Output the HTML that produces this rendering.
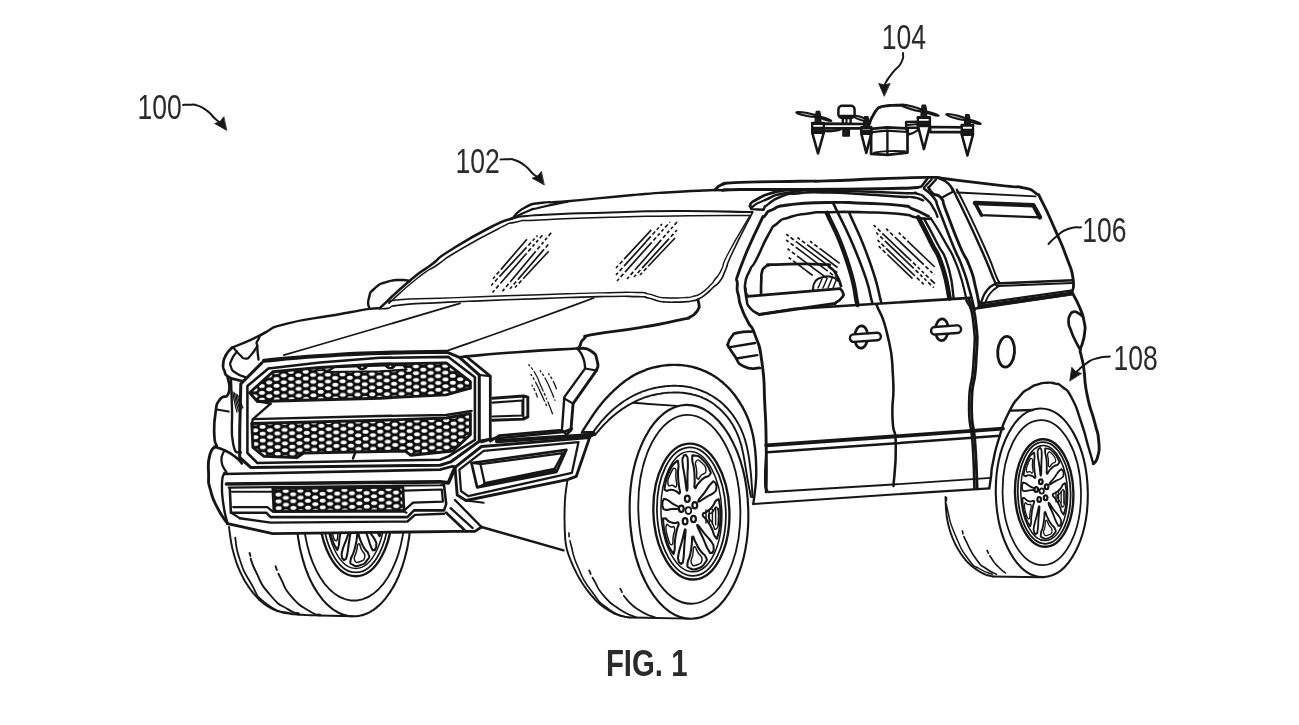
<!DOCTYPE html>
<html><head><meta charset="utf-8"><title>FIG. 1</title>
<style>
html,body{margin:0;padding:0;background:#fff;}
body{width:1299px;height:725px;overflow:hidden;font-family:"Liberation Sans",sans-serif;}
svg{display:block;}
svg path,svg ellipse,svg line,svg circle{stroke:#161616;stroke-linecap:round;stroke-linejoin:round;}
svg text{font-family:"Liberation Sans",sans-serif;fill:#2b2b2b;stroke:none;}
</style></head><body>
<svg width="1299" height="725" viewBox="0 0 1299 725">
<defs>
<filter id="soft" x="-0.02" y="-0.02" width="1.04" height="1.04"><feGaussianBlur stdDeviation="0.45"/></filter>
<pattern id="mesh" width="14.7" height="6.8" patternUnits="userSpaceOnUse" patternTransform="translate(1.5 1.2) rotate(-1)">
<rect width="14.7" height="6.8" style="fill:#0c0c0c;stroke:none"/>
<ellipse cx="3.675" cy="1.700" rx="3.0" ry="1.95" style="fill:#fff;stroke:none"/>
<ellipse cx="3.675" cy="8.500" rx="3.0" ry="1.95" style="fill:#fff;stroke:none"/>
<ellipse cx="11.025" cy="5.100" rx="3.0" ry="1.95" style="fill:#fff;stroke:none"/>
<ellipse cx="11.025" cy="-1.700" rx="3.0" ry="1.95" style="fill:#fff;stroke:none"/>
</pattern>
</defs>
<rect width="1299" height="725" style="fill:#fff;stroke:none"/>
<g filter="url(#soft)">
<path d="M821.9 123.6 L867.3 124.0 L867.3 128.4 L821.9 128.4Z" stroke-width="2.56" fill="#fff" />
<path d="M823.3 130.9 C826.2 130.9 826.4 131.4 832.0 131.0 C837.6 130.6 837.5 130.1 840.2 129.6" stroke-width="2.56" fill="none" />
<path d="M930.2 127.0 L964.0 127.4 L963.0 132.1 L930.2 132.1Z" stroke-width="2.56" fill="#fff" />
<rect x="838.4" y="105.8" width="16.2" height="12.2" rx="3.6" style="fill:#fff;stroke:#161616;stroke-width:2.5"/>
<path d="M840.5 116.4 L852.5 116.4" stroke-width="3.52" fill="none" />
<path d="M842.8 119.0 L842.8 123.5" stroke-width="2.40" fill="none" />
<path d="M850.6 119.0 L850.6 123.5" stroke-width="2.40" fill="none" />
<path d="M846.5 119.0 L846.5 123.5" stroke-width="2.08" fill="none" />
<path d="M843.0 129.0 L843.0 136.0 L849.2 136.0 L849.2 129.0Z" stroke-width="1.60" fill="#1c1c1c" />
<path d="M868.2 127.8 C868.8 125.9 868.7 125.5 870.0 122.0 C871.3 118.5 869.8 121.4 872.1 117.2 C874.4 113.0 874.1 112.8 876.9 109.5 C879.7 106.2 877.9 108.3 880.5 107.2 C883.1 106.1 880.8 106.7 884.6 106.1 C888.4 105.5 886.6 105.7 892.0 105.4 C897.4 105.1 897.9 105.3 900.8 105.2" stroke-width="2.88" fill="none" />
<path d="M871.1 128.8 L886.6 127.4 L906.0 128.3 L907.5 131.8 L907.5 152.6 L887.7 154.9 L871.1 153.9Z" stroke-width="2.72" fill="#fff" />
<path d="M872.1 132.2 L886.6 130.7 L907.5 132.0" stroke-width="2.24" fill="none" />
<path d="M887.4 130.7 L887.4 154.9" stroke-width="2.40" fill="none" />
<path d="M874.0 152.6 C878.5 152.1 877.2 151.7 887.5 151.2 C897.8 150.7 899.2 151.2 905.0 151.2" stroke-width="1.76" fill="none" />
<path d="M906.1 122.0 L918.6 121.6 L918.6 127.8 L906.1 127.8Z" stroke-width="2.40" fill="#fff" />
<path d="M907.0 125.0 L918.6 124.0" stroke-width="1.76" fill="none" />
<path d="M908.0 128.3 L908.0 134.6 L912.8 133.1 L918.6 129.8" stroke-width="2.24" fill="none" />
<path d="M816.4 111.4 L819.6 111.4 L820.6 116.4 L820.8 123.0 L815.2 123.0 L815.4 116.4Z" stroke-width="1.44" fill="#1c1c1c" />
<path d="M812.2 123.0 L823.8 123.0 L823.8 132.7 L812.2 132.7Z" stroke-width="2.40" fill="#fff" />
<path d="M812.2 127.8 L823.8 127.8 L823.8 132.7 L812.2 132.7Z" stroke-width="1.92" fill="#1c1c1c" />
<path d="M812.2 123.6 L823.8 123.6" stroke-width="2.56" fill="none" />
<path d="M812.2 132.7 L818.0 153.4 L823.8 132.7Z" stroke-width="2.56" fill="#fff" />
<path d="M864.7 116.7 L867.9 116.7 L868.9 121.7 L869.1 127.2 L863.5 127.2 L863.7 121.7Z" stroke-width="1.44" fill="#1c1c1c" />
<path d="M861.3 127.2 L871.3 127.2 L871.3 133.6 L861.3 133.6Z" stroke-width="2.40" fill="#fff" />
<path d="M861.3 130.4 L871.3 130.4 L871.3 133.6 L861.3 133.6Z" stroke-width="1.92" fill="#1c1c1c" />
<path d="M861.3 127.8 L871.3 127.8" stroke-width="2.56" fill="none" />
<path d="M861.3 133.6 L866.3 152.9 L871.3 133.6Z" stroke-width="2.56" fill="#fff" />
<path d="M922.3 105.1 L925.5 105.1 L926.5 110.1 L926.7 117.2 L921.1 117.2 L921.3 110.1Z" stroke-width="1.44" fill="#1c1c1c" />
<path d="M917.9 117.2 L929.9 117.2 L929.9 125.9 L917.9 125.9Z" stroke-width="2.40" fill="#fff" />
<path d="M917.9 121.6 L929.9 121.6 L929.9 125.9 L917.9 125.9Z" stroke-width="1.92" fill="#1c1c1c" />
<path d="M917.9 117.8 L929.9 117.8" stroke-width="2.56" fill="none" />
<path d="M917.9 125.9 L923.9 149.1 L929.9 125.9Z" stroke-width="2.56" fill="#fff" />
<path d="M965.8 114.8 L969.0 114.8 L970.0 119.8 L970.2 124.9 L964.6 124.9 L964.8 119.8Z" stroke-width="1.44" fill="#1c1c1c" />
<path d="M961.8 124.9 L973.0 124.9 L973.0 134.6 L961.8 134.6Z" stroke-width="2.40" fill="#fff" />
<path d="M961.8 129.8 L973.0 129.8 L973.0 134.6 L961.8 134.6Z" stroke-width="1.92" fill="#1c1c1c" />
<path d="M961.8 125.5 L973.0 125.5" stroke-width="2.56" fill="none" />
<path d="M961.8 134.6 L967.4 155.4 L973.0 134.6Z" stroke-width="2.56" fill="#fff" />
<ellipse cx="807.1" cy="114.5" rx="11.1" ry="1.5" stroke-width="2.00" fill="#bbb" transform="rotate(11.0 807.1 114.5)"/>
<ellipse cx="824.8" cy="118.8" rx="7.1" ry="0.9" stroke-width="1.92" fill="#222" transform="rotate(18.4 824.8 118.8)"/>
<ellipse cx="912.3" cy="108.0" rx="12.0" ry="1.5" stroke-width="2.00" fill="#bbb" transform="rotate(15.7 912.3 108.0)"/>
<ellipse cx="931.4" cy="113.5" rx="7.8" ry="0.9" stroke-width="1.92" fill="#222" transform="rotate(17.0 931.4 113.5)"/>
<ellipse cx="956.8" cy="117.0" rx="11.0" ry="1.5" stroke-width="2.00" fill="#bbb" transform="rotate(14.5 956.8 117.0)"/>
<ellipse cx="974.1" cy="121.9" rx="7.1" ry="0.9" stroke-width="1.92" fill="#222" transform="rotate(17.3 974.1 121.9)"/>
<ellipse cx="860.0" cy="118.2" rx="6.6" ry="1.5" stroke-width="2.00" fill="#bbb" transform="rotate(18.0 860.0 118.2)"/>
<ellipse cx="866.3" cy="120.3" rx="0.0" ry="0.9" stroke-width="1.92" fill="#222" transform="rotate(0.0 866.3 120.3)"/>
<path d="M229.0 526.9 C229.0 526.9 229.0 526.8 229.0 526.9 C229.0 527.0 229.0 526.9 229.0 527.2 C229.1 527.4 229.0 527.2 229.1 527.8 C229.2 528.3 229.1 527.9 229.2 528.9 C229.4 529.9 229.3 529.4 229.5 530.8 C229.7 532.2 229.6 531.5 229.8 533.2 C230.0 534.9 229.9 534.1 230.2 535.9 C230.4 537.8 230.3 536.9 230.6 538.9 C230.9 540.8 230.7 539.8 231.1 541.7 C231.4 543.7 231.2 542.7 231.6 544.7 C232.0 546.6 231.8 545.6 232.2 547.7 C232.7 549.7 232.4 548.6 233.0 550.8 C233.5 553.0 233.2 551.9 233.9 554.2 C234.5 556.4 234.2 555.3 234.9 557.7 C235.6 560.0 235.2 558.8 236.0 561.2 C236.8 563.6 236.4 562.5 237.3 564.8 C238.2 567.2 237.7 566.1 238.7 568.4 C239.7 570.8 239.2 569.6 240.2 571.9 C241.3 574.2 240.7 573.1 241.9 575.3 C243.0 577.6 242.4 576.5 243.6 578.7 C244.8 580.9 244.2 579.8 245.5 582.0 C246.8 584.1 246.1 583.0 247.5 585.1 C248.8 587.2 248.1 586.2 249.6 588.2 C251.0 590.2 250.3 589.2 251.7 591.2 C253.2 593.1 252.5 592.2 254.0 594.0 C255.6 595.9 254.8 595.0 256.4 596.7 C257.9 598.4 257.2 597.6 258.7 599.2 C260.3 600.7 259.5 600.0 261.0 601.4 C262.6 602.8 261.8 602.1 263.3 603.3 C264.9 604.5 264.1 603.9 265.6 605.0 C267.1 606.0 266.3 605.5 267.8 606.4 C269.3 607.3 268.6 606.9 270.1 607.7 C271.6 608.5 270.8 608.1 272.3 608.9 C273.9 609.7 273.1 609.3 274.8 610.0 C276.4 610.7 275.5 610.3 277.4 611.0 C279.3 611.6 278.2 611.3 280.4 611.9 C282.5 612.4 281.3 612.2 283.7 612.7 C286.1 613.2 284.9 612.9 287.6 613.4 C290.3 613.8 288.8 613.6 291.9 614.0 C295.0 614.3 293.4 614.2 296.7 614.5 C300.1 614.8 298.5 614.6 302.0 614.8 C305.5 615.0 303.9 614.9 307.3 615.1 C310.7 615.2 309.3 615.2 312.1 615.3 C315.0 615.4 313.8 615.3 315.9 615.4 C317.9 615.4 317.1 615.4 318.3 615.5 C319.5 615.5 318.9 615.5 319.5 615.5 C320.0 615.5 319.8 615.5 319.9 615.5 C320.1 615.5 320.0 615.5 320.0 615.5" stroke-width="1.92" fill="none" />
<path d="M320.0 615.5 L352.7 616.2" stroke-width="1.92" fill="none" />
<path d="M235.2 537.7 C236.7 544.9 234.6 544.3 239.7 559.2 C244.8 574.1 241.5 567.6 250.5 582.5 C259.5 597.4 252.9 593.5 266.6 604.0 C280.3 614.5 283.3 610.6 291.7 613.9" stroke-width="1.76" fill="none" />
<path d="M249.6 552.9 C251.7 559.2 249.0 557.7 255.9 571.7 C262.8 585.7 259.5 582.4 270.2 595.0 C280.9 607.6 278.5 603.3 288.1 609.4 C297.7 615.5 295.3 612.0 298.9 613.3" stroke-width="1.92" fill="none" stroke-dasharray="3 3 200"/>
<path d="M275.6 566.3 C277.4 570.5 275.6 568.7 281.0 578.9 C286.4 589.1 282.1 586.0 291.7 596.8 C301.3 607.6 300.1 605.2 309.7 611.2 C319.3 617.2 316.8 613.6 320.4 614.8" stroke-width="1.92" fill="none" stroke-dasharray="4 4 200"/>
<path d="M296.2 510.0 C296.3 513.7 296.1 513.7 296.5 521.1 C296.9 528.5 296.6 524.9 297.5 532.1 C298.3 539.3 297.8 535.8 299.0 542.8 C300.2 549.9 299.5 546.5 301.2 553.2 C302.8 560.0 301.9 556.7 303.9 563.1 C305.9 569.6 304.8 566.5 307.2 572.5 C309.5 578.5 308.3 575.6 310.9 581.1 C313.6 586.6 312.2 584.0 315.2 589.0 C318.2 594.0 316.6 591.6 319.9 596.0 C323.1 600.4 321.4 598.4 324.9 602.1 C328.4 605.8 326.6 604.1 330.3 607.1 C333.9 610.1 332.1 608.8 335.9 611.1 C339.7 613.4 337.8 612.4 341.7 614.0 C345.6 615.5 343.6 614.9 347.6 615.7 C351.6 616.5 349.6 616.3 353.6 616.3 C357.6 616.3 355.6 616.5 359.6 615.7 C363.6 614.9 361.6 615.5 365.5 614.0 C369.4 612.4 367.5 613.4 371.3 611.1 C375.1 608.8 373.3 610.1 376.9 607.1 C380.6 604.1 378.8 605.8 382.3 602.1 C385.8 598.4 384.1 600.4 387.3 596.0 C390.6 591.6 389.0 594.0 392.0 589.0 C395.0 584.0 393.6 586.6 396.3 581.1 C398.9 575.6 397.7 578.5 400.0 572.5 C402.4 566.5 401.3 569.6 403.3 563.2 C405.3 556.7 404.4 560.0 406.0 553.2 C407.7 546.5 407.0 549.9 408.2 542.8 C409.4 535.8 408.9 539.3 409.7 532.1 C410.6 524.9 410.3 528.5 410.7 521.1 C411.1 513.7 410.9 513.7 411.0 510.0" stroke-width="2.08" fill="none" />
<path d="M303.2 499.9 C303.1 503.3 302.9 503.4 303.0 510.2 C303.1 517.0 303.0 513.6 303.5 520.3 C304.0 527.1 303.6 523.8 304.5 530.4 C305.4 537.0 304.9 533.8 306.2 540.1 C307.5 546.5 306.7 543.4 308.4 549.5 C310.1 555.6 309.2 552.7 311.2 558.4 C313.3 564.1 312.2 561.4 314.6 566.6 C316.9 571.9 315.7 569.4 318.4 574.2 C321.0 578.9 319.6 576.7 322.6 580.9 C325.6 585.1 324.0 583.2 327.2 586.7 C330.4 590.3 328.8 588.7 332.2 591.6 C335.6 594.5 333.8 593.2 337.4 595.5 C340.9 597.7 339.2 596.8 342.8 598.2 C346.5 599.7 344.6 599.2 348.4 599.9 C352.1 600.7 350.2 600.5 354.0 600.5 C357.8 600.5 355.9 600.7 359.6 599.9 C363.4 599.2 361.5 599.7 365.2 598.2 C368.8 596.8 367.1 597.7 370.6 595.5 C374.2 593.2 372.4 594.5 375.8 591.6 C379.2 588.7 377.6 590.3 380.8 586.7 C384.0 583.2 382.4 585.1 385.4 580.9 C388.4 576.7 387.0 578.9 389.6 574.2 C392.3 569.4 391.1 571.9 393.4 566.6 C395.8 561.4 394.7 564.1 396.8 558.4 C398.8 552.7 397.9 555.6 399.6 549.5 C401.3 543.4 400.5 546.5 401.8 540.1 C403.1 533.8 402.6 537.0 403.5 530.4 C404.4 523.8 404.0 527.1 404.5 520.3 C405.0 513.6 404.9 517.0 405.0 510.2 C405.1 503.4 404.9 503.3 404.8 499.9" stroke-width="1.84" fill="none" />
<ellipse cx="355.8" cy="508.0" rx="36.7" ry="68.2" stroke-width="2.40" fill="#fff" transform="rotate(0.0 355.8 508.0)"/>
<ellipse cx="355.8" cy="508.0" rx="33.2" ry="64.4" stroke-width="1.76" fill="none" transform="rotate(0.0 355.8 508.0)"/>
<ellipse cx="355.8" cy="508.0" rx="29.4" ry="60.4" stroke-width="1.52" fill="none" transform="rotate(0.0 355.8 508.0)"/>
<path d="M354.2 487.7 C353.3 488.0 353.3 482.4 351.7 472.8 C350.1 463.2 350.0 465.6 349.4 459.0 C348.8 452.5 349.2 455.8 349.9 453.2 C350.6 450.6 350.3 451.7 351.4 451.4 C352.5 451.0 352.2 450.1 353.2 452.1 C354.2 454.1 354.1 450.8 354.5 457.4 C354.9 464.0 354.5 461.8 354.4 471.9 C354.3 482.0 355.1 487.4 354.2 487.7Z" stroke-width="2.08" fill="none" />
<path d="M346.9 489.6 C345.9 491.6 346.1 488.9 343.1 487.6 C340.0 486.2 341.3 486.1 337.7 485.6 C334.1 485.1 334.3 487.7 332.3 486.0 C330.2 484.2 330.3 486.7 331.5 480.3 C332.7 474.0 332.3 474.4 335.9 467.0 C339.5 459.6 339.3 460.6 342.3 458.1 C345.4 455.7 344.2 455.5 345.1 459.7 C345.9 463.9 344.7 463.4 344.9 470.8 C345.2 478.1 345.2 475.5 345.9 481.8 C346.5 488.1 347.8 487.7 346.9 489.6Z" stroke-width="2.08" fill="none" />
<path d="M343.3 482.4 C342.1 484.9 342.0 482.1 339.1 481.2 C336.2 480.4 335.3 483.6 334.6 479.7 C333.9 475.8 334.6 474.7 337.1 469.6 C339.6 464.5 340.2 463.1 342.0 464.5 C343.9 465.9 342.4 467.8 342.8 473.8 C343.2 479.7 344.6 479.9 343.3 482.4Z" stroke-width="1.46" fill="none" />
<path d="M345.9 504.8 C345.8 506.7 343.2 505.0 338.2 505.2 C333.3 505.3 334.4 506.2 331.2 505.3 C328.0 504.5 329.6 504.7 328.6 502.6 C327.6 500.5 328.1 501.3 328.3 499.0 C328.4 496.8 327.9 497.2 329.1 495.9 C330.4 494.5 328.8 493.6 332.0 494.9 C335.2 496.1 334.0 496.2 338.7 499.5 C343.3 502.8 346.1 502.9 345.9 504.8Z" stroke-width="2.08" fill="none" />
<path d="M344.6 519.8 C345.1 522.2 344.0 521.0 342.4 526.6 C340.8 532.1 341.2 529.6 339.8 536.5 C338.5 543.4 339.8 543.7 338.3 547.2 C336.9 550.6 338.1 551.2 335.5 546.9 C333.0 542.6 333.0 543.6 330.7 534.3 C328.4 525.0 328.8 525.6 328.6 518.9 C328.4 512.1 327.9 514.4 330.1 514.0 C332.3 513.6 331.7 516.0 335.2 517.8 C338.7 519.6 337.5 518.7 340.6 519.4 C343.7 520.0 344.0 517.4 344.6 519.8Z" stroke-width="2.08" fill="none" />
<path d="M340.1 524.4 C340.9 527.6 339.6 526.9 338.3 532.3 C337.0 537.7 338.2 540.5 336.2 540.7 C334.2 540.8 333.8 539.1 332.3 532.7 C330.7 526.3 330.2 524.7 331.4 521.4 C332.6 518.2 333.0 521.9 335.9 522.9 C338.8 523.9 339.3 521.3 340.1 524.4Z" stroke-width="1.46" fill="none" />
<path d="M351.3 526.3 C352.1 527.1 350.5 531.8 349.1 541.5 C347.6 551.1 348.3 549.3 347.0 555.3 C345.6 561.3 346.2 558.2 344.9 559.5 C343.6 560.7 344.1 560.1 343.1 559.1 C342.1 558.1 342.2 559.2 341.9 556.4 C341.7 553.5 340.8 556.3 342.4 550.5 C343.9 544.7 343.6 547.0 346.6 538.9 C349.6 530.8 350.4 525.4 351.3 526.3Z" stroke-width="2.08" fill="none" />
<path d="M357.8 533.6 C359.1 533.2 358.2 535.1 360.3 539.9 C362.3 544.7 361.3 543.2 364.1 548.0 C366.8 552.8 367.4 550.3 368.5 554.2 C369.7 558.1 370.3 556.0 367.5 559.7 C364.8 563.4 365.2 563.6 360.2 565.2 C355.2 566.9 355.6 566.3 352.4 564.6 C349.2 562.9 350.1 564.5 350.6 560.0 C351.2 555.6 352.1 557.6 354.0 551.3 C355.9 545.0 355.1 547.1 356.4 541.2 C357.6 535.3 356.5 534.1 357.8 533.6Z" stroke-width="2.08" fill="none" />
<path d="M358.6 543.8 C360.3 543.2 359.5 545.5 361.6 549.8 C363.7 554.0 365.4 552.5 364.8 556.5 C364.3 560.4 363.4 560.5 359.9 561.7 C356.5 562.8 355.6 563.2 354.5 559.8 C353.3 556.4 355.2 556.8 356.5 551.4 C357.9 546.1 356.9 544.3 358.6 543.8Z" stroke-width="1.46" fill="none" />
<path d="M362.9 522.5 C363.5 521.2 365.2 525.7 369.2 531.5 C373.2 537.3 372.6 535.3 375.0 539.9 C377.3 544.5 376.1 542.3 376.3 545.2 C376.4 548.1 376.3 546.9 375.5 548.5 C374.7 550.2 375.3 550.4 373.9 550.0 C372.5 549.7 373.5 552.2 371.3 547.4 C369.1 542.6 370.1 543.8 367.2 535.5 C364.4 527.2 362.2 523.9 362.9 522.5Z" stroke-width="2.08" fill="none" />
<path d="M368.3 512.1 C368.5 509.4 369.1 511.8 371.9 509.2 C374.8 506.5 373.8 508.1 376.9 504.2 C379.9 500.3 379.0 498.5 381.1 497.4 C383.3 496.4 382.5 494.5 383.3 501.0 C384.2 507.6 384.4 506.7 383.6 517.1 C382.8 527.4 382.7 526.4 380.9 532.1 C379.2 537.8 380.2 536.5 378.3 534.2 C376.4 531.8 377.6 530.6 375.3 525.0 C372.9 519.3 373.7 521.5 371.3 517.2 C369.0 512.8 368.1 514.7 368.3 512.1Z" stroke-width="2.08" fill="none" />
<path d="M373.2 513.7 C373.5 510.2 374.3 512.3 376.9 509.5 C379.5 506.7 379.4 503.0 381.0 505.3 C382.7 507.6 382.4 509.4 381.9 516.5 C381.4 523.6 381.3 525.4 379.4 526.6 C377.4 527.8 378.2 524.3 376.1 520.0 C374.1 515.7 372.9 517.2 373.2 513.7Z" stroke-width="1.46" fill="none" />
<path d="M364.7 498.7 C364.3 497.0 366.9 495.2 370.8 489.1 C374.7 483.0 373.6 483.6 376.5 480.4 C379.3 477.2 377.9 479.0 379.3 479.5 C380.7 480.0 380.1 479.9 380.7 482.0 C381.2 484.0 381.4 483.0 380.8 485.6 C380.2 488.2 381.7 487.0 378.8 489.8 C375.9 492.7 376.8 491.2 372.1 494.1 C367.4 497.1 365.1 500.4 364.7 498.7Z" stroke-width="2.08" fill="none" />
<path d="M361.5 484.9 C360.4 483.7 361.6 483.2 361.3 476.8 C361.0 470.4 361.4 472.8 360.6 465.7 C359.7 458.5 358.5 459.8 358.7 455.2 C358.9 450.7 357.8 451.6 361.1 452.0 C364.4 452.4 364.1 451.6 368.6 456.4 C373.1 461.1 372.6 461.0 374.7 466.3 C376.8 471.5 376.5 469.1 374.8 472.1 C373.2 475.1 373.0 472.4 369.7 475.2 C366.3 478.0 367.5 477.3 364.8 480.5 C362.1 483.7 362.7 486.1 361.5 484.9Z" stroke-width="2.08" fill="none" />
<path d="M363.8 475.7 C362.3 474.1 363.5 473.1 363.0 467.2 C362.5 461.2 360.7 460.4 362.3 457.9 C363.9 455.3 364.7 456.3 367.8 459.6 C370.9 462.9 371.7 463.5 371.7 467.7 C371.6 471.8 370.3 469.3 367.6 472.0 C365.0 474.7 365.3 477.3 363.8 475.7Z" stroke-width="1.46" fill="none" />
<ellipse cx="354.7" cy="496.2" rx="2.3" ry="3.1" stroke-width="2.24" fill="none" transform="rotate(0.0 354.7 496.2)"/>
<ellipse cx="348.9" cy="506.1" rx="2.3" ry="3.1" stroke-width="2.24" fill="none" transform="rotate(0.0 348.9 506.1)"/>
<ellipse cx="352.6" cy="518.6" rx="2.3" ry="3.1" stroke-width="2.24" fill="none" transform="rotate(0.0 352.6 518.6)"/>
<ellipse cx="360.7" cy="516.4" rx="2.3" ry="3.1" stroke-width="2.24" fill="none" transform="rotate(0.0 360.7 516.4)"/>
<ellipse cx="362.0" cy="502.6" rx="2.3" ry="3.1" stroke-width="2.24" fill="none" transform="rotate(0.0 362.0 502.6)"/>
<ellipse cx="355.8" cy="508.0" rx="2.8" ry="3.4" stroke-width="1.76" fill="none" transform="rotate(0.0 355.8 508.0)"/>
<path d="M567.5 480.0 C567.5 480.0 567.5 479.9 567.5 480.0 C567.5 480.1 567.5 480.0 567.5 480.3 C567.4 480.6 567.5 480.3 567.3 481.0 C567.2 481.7 567.3 481.2 567.1 482.3 C567.0 483.5 567.0 482.8 566.8 484.5 C566.5 486.1 566.7 485.3 566.4 487.3 C566.1 489.3 566.2 488.3 565.9 490.5 C565.7 492.8 565.8 491.7 565.5 494.0 C565.3 496.3 565.4 495.1 565.2 497.5 C565.0 499.9 565.1 498.7 564.9 501.1 C564.8 503.5 564.9 502.3 564.8 504.8 C564.7 507.3 564.7 506.0 564.6 508.7 C564.6 511.3 564.6 510.0 564.6 512.8 C564.5 515.6 564.5 514.2 564.5 517.1 C564.5 520.0 564.5 518.5 564.6 521.5 C564.6 524.4 564.6 523.0 564.6 525.9 C564.7 528.9 564.7 527.4 564.8 530.3 C564.9 533.2 564.8 531.8 565.0 534.6 C565.1 537.4 565.0 536.1 565.2 538.6 C565.5 541.2 565.3 540.0 565.6 542.3 C565.9 544.7 565.7 543.5 566.1 545.6 C566.5 547.7 566.3 546.7 566.7 548.6 C567.1 550.5 566.9 549.5 567.4 551.3 C567.9 553.0 567.7 552.2 568.2 553.8 C568.7 555.5 568.5 554.6 569.1 556.3 C569.7 557.9 569.4 557.1 570.0 558.7 C570.6 560.3 570.3 559.5 571.0 561.1 C571.7 562.7 571.3 561.9 572.0 563.5 C572.7 565.1 572.4 564.3 573.1 566.0 C573.8 567.6 573.5 566.8 574.2 568.5 C575.0 570.1 574.6 569.3 575.4 570.9 C576.2 572.6 575.8 571.8 576.6 573.4 C577.5 575.0 577.1 574.2 577.9 575.8 C578.8 577.5 578.4 576.6 579.3 578.3 C580.3 579.9 579.8 579.1 580.8 580.7 C581.8 582.3 581.2 581.5 582.3 583.2 C583.4 584.8 582.9 584.0 584.0 585.7 C585.2 587.4 584.6 586.5 585.8 588.2 C587.0 590.0 586.4 589.1 587.7 590.8 C589.0 592.5 588.3 591.7 589.7 593.3 C591.0 595.0 590.3 594.2 591.7 595.8 C593.1 597.4 592.4 596.6 593.8 598.2 C595.1 599.7 594.5 599.0 595.8 600.4 C597.2 601.8 596.5 601.1 597.9 602.4 C599.3 603.7 598.6 603.1 600.0 604.3 C601.3 605.4 600.6 604.8 602.0 605.9 C603.4 607.0 602.7 606.4 604.1 607.4 C605.5 608.4 604.8 607.9 606.2 608.8 C607.6 609.8 606.9 609.3 608.3 610.2 C609.8 611.0 609.0 610.6 610.5 611.4 C611.9 612.2 611.2 611.9 612.6 612.6 C614.0 613.3 613.3 613.0 614.7 613.6 C616.0 614.2 615.3 613.9 616.6 614.4 C617.9 615.0 617.2 614.7 618.5 615.2 C619.7 615.6 619.1 615.4 620.3 615.8 C621.5 616.1 620.9 616.0 622.2 616.2 C623.4 616.5 622.8 616.4 624.0 616.6 C625.3 616.9 624.7 616.8 625.9 616.9 C627.0 617.1 626.5 617.0 627.4 617.2 C628.4 617.3 628.0 617.2 628.7 617.3 C629.3 617.4 629.0 617.4 629.4 617.4 C629.8 617.5 629.7 617.5 629.8 617.5 C630.0 617.5 629.9 617.5 630.0 617.5 C630.0 617.5 630.0 617.5 630.0 617.5" stroke-width="1.92" fill="none" />
<path d="M630.0 617.5 L689.0 618.6" stroke-width="1.92" fill="none" />
<path d="M632.7 402.8 L676.8 405.9" stroke-width="1.92" fill="none" />
<ellipse cx="689.0" cy="511.8" rx="59.3" ry="107.0" stroke-width="2.16" fill="#fff" transform="rotate(-1.5 689.0 511.8)"/>
<ellipse cx="689.3" cy="509.3" rx="51.0" ry="94.5" stroke-width="1.84" fill="none" transform="rotate(-1.5 689.3 509.3)"/>
<ellipse cx="691.4" cy="511.6" rx="38.0" ry="68.0" stroke-width="2.40" fill="#fff" transform="rotate(-2.0 691.4 511.6)"/>
<ellipse cx="691.4" cy="511.6" rx="34.4" ry="64.3" stroke-width="1.76" fill="none" transform="rotate(-2.0 691.4 511.6)"/>
<ellipse cx="691.4" cy="511.6" rx="30.4" ry="60.2" stroke-width="1.52" fill="none" transform="rotate(-2.0 691.4 511.6)"/>
<path d="M687.1 490.8 C686.2 491.1 686.2 485.6 684.7 476.3 C683.2 467.0 683.1 469.2 682.6 462.9 C682.1 456.5 682.4 459.7 683.2 457.1 C683.9 454.6 683.6 455.7 684.8 455.3 C685.9 454.9 685.5 454.0 686.5 455.9 C687.6 457.9 687.5 454.6 687.8 461.0 C688.1 467.5 687.8 465.4 687.5 475.3 C687.3 485.2 688.0 490.5 687.1 490.8Z" stroke-width="2.08" fill="none" />
<path d="M679.8 493.1 C678.9 495.0 679.1 492.4 676.2 491.2 C673.2 490.1 674.4 490.0 671.0 489.7 C667.6 489.4 667.9 492.0 665.9 490.4 C664.0 488.8 664.1 491.2 665.2 484.9 C666.3 478.6 665.8 479.0 669.2 471.5 C672.7 463.9 672.6 464.9 675.6 462.3 C678.6 459.7 677.5 459.6 678.3 463.7 C679.1 467.8 677.8 467.3 678.0 474.6 C678.2 481.8 678.2 479.3 678.9 485.4 C679.5 491.6 680.7 491.1 679.8 493.1Z" stroke-width="2.08" fill="none" />
<path d="M676.4 486.1 C675.2 488.7 675.2 486.0 672.4 485.3 C669.6 484.6 668.7 487.8 668.1 484.1 C667.4 480.3 668.0 479.1 670.4 473.9 C672.8 468.7 673.4 467.3 675.2 468.6 C677.1 469.8 675.5 471.8 675.9 477.7 C676.3 483.5 677.6 483.6 676.4 486.1Z" stroke-width="1.46" fill="none" />
<path d="M679.1 508.1 C679.0 510.0 676.5 508.5 671.9 509.0 C667.3 509.5 668.4 510.3 665.3 509.7 C662.3 509.1 663.8 509.2 662.9 507.2 C661.9 505.1 662.3 505.9 662.4 503.6 C662.5 501.4 662.1 501.8 663.2 500.4 C664.3 498.9 662.8 498.2 665.8 499.2 C668.8 500.2 667.7 500.4 672.2 503.4 C676.6 506.4 679.2 506.2 679.1 508.1Z" stroke-width="2.08" fill="none" />
<path d="M678.5 523.2 C679.2 525.6 678.0 524.4 676.8 530.1 C675.7 535.8 675.9 533.3 675.0 540.3 C674.2 547.3 675.5 547.6 674.3 551.1 C673.2 554.7 674.3 555.2 671.6 551.0 C668.9 546.9 668.9 547.9 666.2 538.7 C663.5 529.5 663.9 530.1 663.4 523.4 C662.9 516.6 662.6 518.9 664.7 518.4 C666.7 517.9 666.2 520.3 669.6 521.8 C672.9 523.3 671.8 522.6 674.7 523.0 C677.7 523.5 677.8 520.8 678.5 523.2Z" stroke-width="2.08" fill="none" />
<path d="M674.5 528.1 C675.4 531.3 674.2 530.6 673.3 536.2 C672.4 541.7 673.7 544.5 671.8 544.7 C669.9 545.0 669.5 543.3 667.6 536.9 C665.7 530.6 665.2 529.1 666.2 525.7 C667.2 522.4 667.7 526.0 670.5 526.8 C673.3 527.7 673.6 525.0 674.5 528.1Z" stroke-width="1.46" fill="none" />
<path d="M685.4 529.3 C686.2 530.2 685.0 534.9 684.4 544.8 C683.7 554.6 684.3 552.8 683.4 558.9 C682.5 565.1 682.9 561.9 681.7 563.2 C680.5 564.5 681.0 563.9 679.9 562.9 C678.9 561.9 679.0 563.1 678.5 560.2 C678.1 557.4 677.4 560.3 678.5 554.3 C679.6 548.3 679.5 550.6 681.7 542.3 C684.0 534.0 684.5 528.5 685.4 529.3Z" stroke-width="2.08" fill="none" />
<path d="M692.6 536.5 C694.0 536.0 693.1 538.0 695.8 542.8 C698.4 547.6 697.1 546.1 700.5 550.9 C703.8 555.6 704.3 553.2 705.8 557.1 C707.4 561.0 707.8 558.9 705.2 562.6 C702.5 566.4 703.0 566.6 697.8 568.4 C692.7 570.2 693.1 569.7 689.7 568.1 C686.3 566.4 687.4 568.0 687.5 563.5 C687.7 559.0 688.7 561.0 690.2 554.5 C691.6 548.1 691.0 550.2 691.8 544.2 C692.6 538.2 691.3 537.0 692.6 536.5Z" stroke-width="2.08" fill="none" />
<path d="M694.3 546.7 C696.0 546.1 695.5 548.5 698.0 552.7 C700.6 557.0 702.3 555.4 702.0 559.4 C701.8 563.4 700.8 563.6 697.2 564.8 C693.7 566.1 692.9 566.6 691.4 563.2 C689.9 559.7 691.9 560.0 692.8 554.6 C693.8 549.1 692.6 547.4 694.3 546.7Z" stroke-width="1.46" fill="none" />
<path d="M697.2 525.1 C697.9 523.8 700.0 528.4 704.9 534.2 C709.8 540.0 708.9 538.0 711.9 542.5 C714.8 547.1 713.2 545.0 713.6 547.9 C714.0 550.8 713.8 549.6 713.1 551.2 C712.3 552.9 712.9 553.1 711.4 552.8 C709.8 552.4 711.1 555.0 708.4 550.1 C705.6 545.3 706.7 546.6 703.0 538.2 C699.3 529.9 696.6 526.5 697.2 525.1Z" stroke-width="2.08" fill="none" />
<path d="M702.7 514.6 C702.9 512.0 703.6 514.3 706.8 511.7 C710.0 509.1 708.9 510.7 712.2 506.8 C715.6 502.9 714.4 501.1 716.9 500.0 C719.3 499.0 718.3 497.1 719.5 503.6 C720.7 510.1 720.9 509.2 720.4 519.6 C719.9 529.9 719.8 528.9 718.1 534.7 C716.4 540.4 717.5 539.1 715.2 536.7 C713.0 534.4 714.2 533.2 711.3 527.5 C708.4 521.9 709.3 524.0 706.4 519.7 C703.6 515.4 702.6 517.3 702.7 514.6Z" stroke-width="2.08" fill="none" />
<path d="M708.4 516.2 C708.6 512.7 709.6 514.9 712.5 512.1 C715.3 509.3 715.0 505.5 717.0 507.8 C719.0 510.2 718.7 511.9 718.4 519.0 C718.1 526.1 718.2 528.0 716.0 529.1 C713.9 530.3 714.5 526.8 712.0 522.5 C709.5 518.2 708.2 519.7 708.4 516.2Z" stroke-width="1.46" fill="none" />
<path d="M698.3 501.3 C697.8 499.7 700.7 497.9 705.1 491.8 C709.4 485.7 708.2 486.3 711.4 483.2 C714.5 480.0 713.0 481.8 714.5 482.3 C716.1 482.8 715.5 482.7 716.1 484.7 C716.7 486.7 717.0 485.7 716.3 488.3 C715.7 490.9 717.4 489.7 714.1 492.5 C710.9 495.3 711.8 493.9 706.6 496.8 C701.3 499.7 698.8 503.0 698.3 501.3Z" stroke-width="2.08" fill="none" />
<path d="M694.8 487.8 C693.6 486.6 694.9 486.1 694.7 479.9 C694.4 473.6 694.8 476.0 694.0 469.0 C693.2 461.9 692.0 463.3 692.2 458.8 C692.5 454.3 691.3 455.3 694.8 455.6 C698.3 455.9 697.9 455.1 702.7 459.7 C707.6 464.2 707.1 464.2 709.4 469.3 C711.6 474.4 711.4 472.1 709.5 475.0 C707.6 478.0 707.5 475.3 703.8 478.1 C700.1 480.9 701.4 480.2 698.4 483.4 C695.5 486.6 696.1 489.0 694.8 487.8Z" stroke-width="2.08" fill="none" />
<path d="M697.4 478.8 C695.7 477.2 697.1 476.2 696.6 470.4 C696.2 464.5 694.3 463.8 696.0 461.3 C697.7 458.8 698.5 459.7 701.8 462.8 C705.2 466.0 706.1 466.6 706.0 470.7 C705.9 474.7 704.4 472.3 701.5 475.0 C698.6 477.7 699.0 480.3 697.4 478.8Z" stroke-width="1.46" fill="none" />
<ellipse cx="687.3" cy="498.8" rx="2.4" ry="3.1" stroke-width="2.24" fill="none" transform="rotate(0.0 687.3 498.8)"/>
<ellipse cx="681.3" cy="508.7" rx="2.4" ry="3.1" stroke-width="2.24" fill="none" transform="rotate(0.0 681.3 508.7)"/>
<ellipse cx="685.1" cy="521.2" rx="2.4" ry="3.1" stroke-width="2.24" fill="none" transform="rotate(0.0 685.1 521.2)"/>
<ellipse cx="693.5" cy="519.0" rx="2.4" ry="3.1" stroke-width="2.24" fill="none" transform="rotate(0.0 693.5 519.0)"/>
<ellipse cx="694.8" cy="505.2" rx="2.4" ry="3.1" stroke-width="2.24" fill="none" transform="rotate(0.0 694.8 505.2)"/>
<ellipse cx="688.4" cy="510.6" rx="2.9" ry="3.4" stroke-width="1.76" fill="none" transform="rotate(0.0 688.4 510.6)"/>
<path d="M706.0 510.0 L706.0 523.0" stroke-width="1.44" fill="none" />
<path d="M709.2 509.6 L709.2 523.6" stroke-width="1.44" fill="none" />
<path d="M712.4 509.2 L712.4 524.2" stroke-width="1.44" fill="none" />
<path d="M715.6 508.8 L715.6 524.8" stroke-width="1.44" fill="none" />
<path d="M718.8 508.4 L718.8 525.4" stroke-width="1.44" fill="none" />
<path d="M568.9 533.0 C569.6 536.9 567.8 533.0 571.0 544.8 C574.2 556.6 571.7 553.0 578.5 568.3 C585.3 583.6 581.3 577.2 591.3 590.7 C601.3 604.2 596.3 600.0 608.4 608.9 C620.5 617.8 621.2 614.6 627.6 617.4" stroke-width="1.60" fill="none" stroke-dasharray="4 4 300"/>
<path d="M589.2 570.4 C591.0 574.0 589.5 572.5 594.5 581.1 C599.5 589.7 595.9 586.8 604.1 596.1 C612.3 605.4 608.4 601.8 619.1 608.9 C629.8 616.0 630.5 614.6 636.2 617.4" stroke-width="1.76" fill="none" stroke-dasharray="4 4 300"/>
<path d="M620.2 588.6 C622.7 592.5 620.8 592.8 627.6 600.3 C634.4 607.8 631.2 605.2 640.5 611.0 C649.8 616.8 650.4 615.4 655.4 617.6" stroke-width="1.76" fill="none" stroke-dasharray="4 4 300"/>
<path d="M945.5 497.0 C945.5 497.0 945.5 497.0 945.5 497.0 C945.5 497.1 945.5 497.0 945.5 497.2 C945.5 497.5 945.5 497.2 945.5 497.8 C945.5 498.3 945.5 497.9 945.5 498.8 C945.6 499.8 945.6 499.2 945.6 500.5 C945.6 501.8 945.6 501.1 945.7 502.8 C945.7 504.4 945.7 503.5 945.8 505.3 C945.9 507.2 945.8 506.3 945.9 508.2 C946.1 510.1 946.0 509.1 946.2 511.1 C946.3 513.0 946.2 512.0 946.5 514.0 C946.7 516.0 946.5 515.0 946.8 517.0 C947.1 518.9 946.9 518.0 947.3 519.9 C947.7 521.9 947.5 520.9 947.9 522.8 C948.3 524.8 948.1 523.8 948.6 525.7 C949.0 527.6 948.8 526.7 949.3 528.6 C949.9 530.4 949.6 529.5 950.2 531.3 C950.7 533.2 950.4 532.3 951.1 534.1 C951.7 535.8 951.4 535.0 952.1 536.7 C952.7 538.5 952.4 537.6 953.1 539.3 C953.8 541.1 953.5 540.2 954.2 541.9 C955.0 543.6 954.6 542.8 955.5 544.5 C956.3 546.1 955.9 545.3 956.8 547.0 C957.7 548.6 957.2 547.8 958.2 549.4 C959.2 551.0 958.7 550.3 959.7 551.8 C960.7 553.4 960.2 552.6 961.2 554.2 C962.2 555.7 961.7 555.0 962.8 556.4 C963.8 557.9 963.3 557.2 964.4 558.5 C965.5 559.9 964.9 559.2 966.0 560.5 C967.1 561.8 966.5 561.1 967.6 562.3 C968.7 563.4 968.2 562.9 969.3 563.9 C970.4 565.0 969.8 564.4 970.9 565.4 C972.1 566.4 971.5 565.9 972.7 566.8 C973.8 567.8 973.3 567.3 974.4 568.2 C975.6 569.0 975.0 568.6 976.2 569.4 C977.4 570.2 976.9 569.9 978.0 570.6 C979.2 571.3 978.6 571.0 979.7 571.7 C980.9 572.3 980.3 572.0 981.4 572.6 C982.5 573.2 981.9 572.9 983.0 573.4 C984.0 573.9 983.5 573.7 984.6 574.1 C985.6 574.6 985.1 574.4 986.2 574.8 C987.2 575.1 986.7 575.0 987.8 575.3 C988.9 575.6 988.4 575.4 989.4 575.7 C990.4 575.9 989.9 575.8 990.8 576.0 C991.6 576.2 991.3 576.1 991.8 576.2 C992.4 576.4 992.2 576.3 992.5 576.4 C992.8 576.5 992.7 576.4 992.9 576.5 C993.0 576.5 992.9 576.5 993.0 576.5 C993.0 576.5 993.0 576.5 993.0 576.5" stroke-width="1.92" fill="none" />
<path d="M993.0 576.5 L1041.0 577.2" stroke-width="1.92" fill="none" />
<ellipse cx="1041.8" cy="492.8" rx="46.0" ry="84.3" stroke-width="2.08" fill="#fff" transform="rotate(-1.0 1041.8 492.8)"/>
<ellipse cx="1041.8" cy="492.6" rx="39.2" ry="72.6" stroke-width="1.76" fill="none" transform="rotate(-1.0 1041.8 492.6)"/>
<ellipse cx="1044.2" cy="493.0" rx="29.2" ry="53.8" stroke-width="2.40" fill="#fff" transform="rotate(-1.5 1044.2 493.0)"/>
<ellipse cx="1044.2" cy="493.0" rx="26.4" ry="50.8" stroke-width="1.76" fill="none" transform="rotate(-1.5 1044.2 493.0)"/>
<ellipse cx="1044.2" cy="493.0" rx="23.4" ry="47.6" stroke-width="1.52" fill="none" transform="rotate(-1.5 1044.2 493.0)"/>
<path d="M1040.9 475.7 C1040.2 476.0 1040.3 471.7 1039.2 464.5 C1038.1 457.3 1038.0 459.1 1037.7 454.2 C1037.4 449.3 1037.6 451.7 1038.2 449.8 C1038.8 447.8 1038.6 448.6 1039.4 448.3 C1040.3 448.0 1040.0 447.4 1040.8 448.9 C1041.6 450.3 1041.5 447.8 1041.7 452.8 C1041.9 457.7 1041.6 456.1 1041.4 463.8 C1041.1 471.4 1041.6 475.5 1040.9 475.7Z" stroke-width="1.84" fill="none" />
<path d="M1035.3 477.6 C1034.6 479.1 1034.8 477.1 1032.5 476.2 C1030.3 475.4 1031.2 475.3 1028.6 475.2 C1026.0 475.0 1026.2 477.1 1024.7 475.9 C1023.3 474.7 1023.3 476.5 1024.2 471.6 C1025.1 466.6 1024.7 466.9 1027.4 461.0 C1030.1 455.1 1030.0 455.9 1032.3 453.8 C1034.7 451.8 1033.8 451.7 1034.4 454.9 C1035.0 458.0 1034.0 457.7 1034.1 463.3 C1034.2 468.9 1034.2 466.9 1034.6 471.7 C1035.0 476.4 1036.0 476.1 1035.3 477.6Z" stroke-width="1.84" fill="none" />
<path d="M1032.8 472.3 C1031.8 474.3 1031.8 472.2 1029.7 471.7 C1027.6 471.2 1026.9 473.8 1026.4 470.9 C1026.0 467.9 1026.4 467.0 1028.3 462.9 C1030.2 458.8 1030.6 457.7 1032.0 458.7 C1033.4 459.6 1032.2 461.2 1032.4 465.7 C1032.7 470.2 1033.7 470.3 1032.8 472.3Z" stroke-width="1.29" fill="none" />
<path d="M1034.6 489.4 C1034.6 490.8 1032.7 489.7 1029.2 490.3 C1025.7 490.9 1026.4 491.5 1024.2 491.1 C1021.9 490.7 1023.0 490.8 1022.3 489.2 C1021.6 487.6 1021.9 488.2 1022.0 486.4 C1022.1 484.6 1021.7 485.0 1022.6 483.8 C1023.4 482.6 1022.3 482.1 1024.6 482.8 C1026.9 483.5 1026.0 483.7 1029.4 485.9 C1032.8 488.1 1034.7 487.9 1034.6 489.4Z" stroke-width="1.84" fill="none" />
<path d="M1034.1 501.4 C1034.6 503.3 1033.7 502.4 1032.8 507.0 C1031.9 511.6 1032.1 509.6 1031.4 515.3 C1030.7 520.9 1031.7 521.1 1030.8 524.0 C1029.9 526.9 1030.8 527.3 1028.7 524.0 C1026.7 520.7 1026.7 521.5 1024.7 514.2 C1022.6 506.9 1023.0 507.4 1022.6 502.0 C1022.3 496.7 1022.0 498.5 1023.6 498.0 C1025.2 497.5 1024.8 499.5 1027.3 500.6 C1029.9 501.7 1029.0 501.1 1031.2 501.4 C1033.5 501.6 1033.5 499.5 1034.1 501.4Z" stroke-width="1.84" fill="none" />
<path d="M1031.1 505.5 C1031.7 508.0 1030.8 507.5 1030.1 512.0 C1029.4 516.4 1030.4 518.6 1028.9 518.9 C1027.5 519.1 1027.1 517.8 1025.7 512.7 C1024.3 507.7 1024.0 506.5 1024.7 503.8 C1025.5 501.1 1025.9 504.0 1028.0 504.6 C1030.1 505.1 1030.4 503.0 1031.1 505.5Z" stroke-width="1.29" fill="none" />
<path d="M1039.3 506.2 C1040.0 506.9 1039.1 510.7 1038.5 518.7 C1038.0 526.7 1038.4 525.2 1037.7 530.2 C1037.0 535.2 1037.3 532.6 1036.4 533.7 C1035.5 534.8 1035.9 534.2 1035.1 533.5 C1034.2 532.7 1034.4 533.6 1034.0 531.3 C1033.6 529.0 1033.2 531.3 1034.0 526.5 C1034.8 521.6 1034.7 523.5 1036.5 516.7 C1038.3 510.0 1038.7 505.5 1039.3 506.2Z" stroke-width="1.84" fill="none" />
<path d="M1044.9 512.0 C1045.9 511.7 1045.3 513.2 1047.3 517.2 C1049.3 521.1 1048.3 519.9 1050.9 523.8 C1053.5 527.7 1053.8 525.8 1055.0 528.9 C1056.2 532.1 1056.5 530.4 1054.5 533.4 C1052.4 536.4 1052.8 536.6 1048.8 538.0 C1044.8 539.4 1045.2 539.0 1042.5 537.6 C1039.9 536.3 1040.7 537.6 1040.9 533.9 C1041.0 530.2 1041.8 531.8 1042.9 526.6 C1044.0 521.4 1043.6 523.1 1044.2 518.3 C1044.9 513.4 1043.9 512.4 1044.9 512.0Z" stroke-width="1.84" fill="none" />
<path d="M1046.1 520.3 C1047.5 519.9 1047.0 521.8 1049.0 525.3 C1051.0 528.7 1052.3 527.5 1052.0 530.7 C1051.8 534.0 1051.1 534.1 1048.3 535.0 C1045.6 536.0 1045.0 536.4 1043.9 533.6 C1042.7 530.8 1044.2 531.1 1045.0 526.7 C1045.7 522.2 1044.8 520.8 1046.1 520.3Z" stroke-width="1.29" fill="none" />
<path d="M1048.5 503.0 C1049.0 501.9 1050.6 505.6 1054.3 510.5 C1058.1 515.3 1057.5 513.7 1059.7 517.4 C1061.9 521.2 1060.8 519.4 1061.1 521.8 C1061.4 524.1 1061.2 523.2 1060.6 524.5 C1060.0 525.8 1060.5 526.0 1059.3 525.6 C1058.1 525.3 1059.1 527.4 1057.0 523.4 C1054.8 519.4 1055.7 520.5 1052.9 513.7 C1050.0 506.9 1048.0 504.0 1048.5 503.0Z" stroke-width="1.84" fill="none" />
<path d="M1052.8 494.8 C1052.9 492.7 1053.5 494.6 1055.9 492.7 C1058.4 490.7 1057.5 491.9 1060.2 489.0 C1062.8 486.1 1061.9 484.6 1063.8 483.9 C1065.7 483.2 1065.0 481.6 1065.8 486.8 C1066.7 492.0 1066.8 491.3 1066.4 499.5 C1066.0 507.7 1065.9 506.9 1064.6 511.4 C1063.2 515.9 1064.1 514.9 1062.3 512.9 C1060.6 510.9 1061.6 510.1 1059.3 505.4 C1057.1 500.8 1057.8 502.5 1055.6 499.0 C1053.4 495.5 1052.7 496.9 1052.8 494.8Z" stroke-width="1.84" fill="none" />
<path d="M1057.2 496.3 C1057.3 493.5 1058.1 495.3 1060.3 493.2 C1062.6 491.1 1062.3 488.1 1063.8 490.1 C1065.4 492.0 1065.2 493.3 1064.9 499.0 C1064.6 504.6 1064.6 506.1 1063.0 506.9 C1061.3 507.7 1061.9 505.0 1059.9 501.5 C1058.0 497.9 1057.0 499.1 1057.2 496.3Z" stroke-width="1.29" fill="none" />
<path d="M1049.4 484.1 C1049.1 482.8 1051.3 481.5 1054.8 477.0 C1058.2 472.4 1057.2 472.8 1059.7 470.5 C1062.1 468.1 1060.9 469.4 1062.1 469.9 C1063.4 470.4 1062.9 470.3 1063.3 471.9 C1063.7 473.4 1064.0 472.7 1063.5 474.7 C1063.0 476.7 1064.3 475.8 1061.7 477.9 C1059.2 480.0 1060.0 478.8 1055.9 480.9 C1051.8 483.0 1049.8 485.5 1049.4 484.1Z" stroke-width="1.84" fill="none" />
<path d="M1046.9 473.5 C1045.9 472.6 1047.0 472.2 1046.8 467.4 C1046.7 462.5 1047.0 464.4 1046.4 458.9 C1045.8 453.5 1044.9 454.5 1045.1 451.1 C1045.4 447.6 1044.4 448.3 1047.1 448.6 C1049.8 448.9 1049.5 448.3 1053.2 451.9 C1056.9 455.6 1056.6 455.6 1058.3 459.6 C1060.0 463.6 1059.8 461.8 1058.3 464.1 C1056.8 466.3 1056.7 464.2 1053.9 466.3 C1051.0 468.3 1052.0 467.8 1049.7 470.2 C1047.4 472.6 1047.8 474.4 1046.9 473.5Z" stroke-width="1.84" fill="none" />
<path d="M1048.9 466.6 C1047.6 465.4 1048.7 464.6 1048.4 460.1 C1048.1 455.6 1046.7 454.9 1048.0 453.0 C1049.4 451.1 1049.9 451.9 1052.5 454.4 C1055.0 456.9 1055.8 457.4 1055.7 460.6 C1055.5 463.7 1054.4 461.8 1052.2 463.8 C1049.9 465.8 1050.1 467.8 1048.9 466.6Z" stroke-width="1.29" fill="none" />
<ellipse cx="1040.8" cy="481.7" rx="1.8" ry="2.4" stroke-width="2.24" fill="none" transform="rotate(0.0 1040.8 481.7)"/>
<ellipse cx="1036.2" cy="489.5" rx="1.8" ry="2.4" stroke-width="2.24" fill="none" transform="rotate(0.0 1036.2 489.5)"/>
<ellipse cx="1039.2" cy="499.4" rx="1.8" ry="2.4" stroke-width="2.24" fill="none" transform="rotate(0.0 1039.2 499.4)"/>
<ellipse cx="1045.6" cy="497.7" rx="1.8" ry="2.4" stroke-width="2.24" fill="none" transform="rotate(0.0 1045.6 497.7)"/>
<ellipse cx="1046.6" cy="486.7" rx="1.8" ry="2.4" stroke-width="2.24" fill="none" transform="rotate(0.0 1046.6 486.7)"/>
<ellipse cx="1041.7" cy="491.0" rx="2.2" ry="2.7" stroke-width="1.76" fill="none" transform="rotate(0.0 1041.7 491.0)"/>
<path d="M1056.0 492.0 L1056.0 502.0" stroke-width="1.28" fill="none" />
<path d="M1058.6 491.7 L1058.6 502.4" stroke-width="1.28" fill="none" />
<path d="M1061.2 491.4 L1061.2 502.8" stroke-width="1.28" fill="none" />
<path d="M1063.8 491.1 L1063.8 503.2" stroke-width="1.28" fill="none" />
<path d="M946.5 497.5 C947.0 502.3 944.9 499.1 948.0 512.0 C951.1 524.9 948.8 520.2 955.7 536.1 C962.6 552.0 960.7 548.7 968.8 559.7 C976.9 570.7 972.1 564.1 980.0 569.0 C987.9 573.9 988.3 572.5 992.4 574.3" stroke-width="1.44" fill="none" stroke-dasharray="3 4 300"/>
<path d="M962.3 530.9 C963.6 534.4 961.4 531.8 966.2 541.4 C971.0 551.0 970.0 550.7 976.6 559.7 C983.2 568.7 979.4 563.6 986.0 568.5 C992.6 573.4 992.9 572.4 996.3 574.3" stroke-width="1.60" fill="none" stroke-dasharray="3 3 300"/>
<path d="M987.1 550.5 C988.9 553.6 988.6 554.2 992.4 559.7 C996.2 565.2 994.2 562.6 998.5 567.0 C1002.8 571.4 1003.1 571.0 1005.4 573.0" stroke-width="1.60" fill="none" stroke-dasharray="3 3 300"/>
<path d="M595.2 434.6 C600.3 428.7 598.1 427.9 610.6 416.9 C623.1 405.9 618.0 409.2 632.7 401.5 C647.4 393.8 640.0 397.1 654.7 393.8 C669.4 390.5 662.1 391.2 676.8 391.6 C691.5 392.0 685.6 390.5 698.8 394.9 C712.0 399.3 705.5 396.0 716.5 404.8 C727.5 413.6 723.8 409.2 731.9 421.3 C740.0 433.4 736.6 428.3 740.8 441.2 C745.0 454.1 742.4 447.1 744.5 460.0 C746.6 472.9 744.8 465.7 747.0 480.0 C749.2 494.3 749.7 495.3 751.0 503.0 L785 504 L785 300 L555 300 L555 436 Z" stroke-width="0.00" fill="#fff" style="stroke:none"/>
<path d="M206.0 440.0 L208.0 470.0 L214.0 500.0 L228.0 524.0 L272.8 534.0 L457.0 532.0 L474.9 532.0 L482.0 527.0 L482.0 440.0Z" stroke-width="0.00" fill="#fff" style="stroke:none"/>
<path d="M379.7 308.3 C389.8 299.0 392.7 295.1 410.0 280.5 C427.3 265.9 418.3 274.5 431.6 264.5 C444.9 254.5 430.5 262.8 450.0 250.5 C469.5 238.2 469.2 238.2 490.0 227.5 C510.8 216.8 505.0 221.4 512.5 218.3" stroke-width="2.56" fill="none" />
<path d="M512.5 218.3 C516.7 214.7 515.0 212.7 525.0 207.5 C535.0 202.3 528.3 204.9 542.5 202.8 C556.7 200.7 537.3 203.9 567.5 201.3 C597.7 198.7 597.2 198.1 633.0 195.0 C668.8 191.9 647.7 193.7 675.0 192.0 C702.3 190.3 701.7 190.7 715.0 190.0" stroke-width="2.40" fill="none" />
<path d="M515.0 217.5 C519.0 215.5 518.7 214.8 527.0 211.5 C535.3 208.2 526.5 210.8 540.0 207.5 C553.5 204.2 558.3 203.6 567.5 201.6" stroke-width="2.24" fill="none" />
<path d="M512.5 218.3 C521.7 217.2 507.5 216.9 540.0 215.0 C572.5 213.1 565.0 213.8 610.0 212.5 C655.0 211.2 627.5 211.2 675.0 211.0 C722.5 210.8 726.7 211.7 752.5 212.0" stroke-width="2.16" fill="none" />
<path d="M388.9 303.1 C398.3 294.9 400.7 291.4 417.0 278.5 C433.3 265.6 424.5 273.5 437.8 264.5 C451.1 255.5 437.3 263.2 457.0 251.5 C476.7 239.8 477.2 239.3 497.0 229.5 C516.8 219.7 502.2 225.2 516.5 222.0 C530.8 218.8 508.8 221.6 540.0 220.0 C571.2 218.4 565.0 218.5 610.0 217.2 C655.0 215.9 628.3 216.6 675.0 216.0 C721.7 215.4 725.0 215.7 750.0 215.5" stroke-width="1.52" fill="none" />
<path d="M379.7 308.3 C382.4 308.3 380.4 309.5 387.7 308.3 C395.0 307.1 384.2 306.7 401.6 304.8 C419.0 302.9 413.9 303.9 440.0 302.6 C466.1 301.3 446.7 302.1 480.0 300.8 C513.3 299.5 500.0 300.0 540.0 298.6 C580.0 297.2 567.7 297.3 600.0 296.6 C632.3 295.9 621.0 296.1 637.0 296.6 C653.0 297.1 640.6 296.5 648.0 298.0 C655.4 299.5 653.1 299.9 659.1 301.2 C665.1 302.5 661.1 301.7 666.0 302.0 C670.9 302.3 667.9 302.3 673.9 302.2 C679.9 302.1 677.8 302.3 684.0 301.8 C690.2 301.3 687.5 301.8 692.4 300.8 C697.3 299.8 694.2 301.2 698.8 298.9 C703.4 296.6 701.5 297.7 706.2 293.9 C710.9 290.1 708.4 291.8 713.0 287.5 C717.6 283.2 715.8 286.7 720.0 280.9 C724.2 275.1 721.3 279.5 725.5 270.0 C729.7 260.5 723.5 271.7 732.5 252.5 C741.5 233.3 745.8 225.8 752.5 212.5" stroke-width="1.68" fill="none" />
<path d="M388.9 303.1 C392.4 302.0 382.3 301.4 399.3 299.8 C416.3 298.2 413.1 299.3 440.0 298.3 C466.9 297.3 446.7 298.0 480.0 296.8 C513.3 295.6 500.0 296.0 540.0 294.7 C580.0 293.4 567.7 293.6 600.0 292.9 C632.3 292.2 621.0 292.2 637.0 292.5 C653.0 292.8 640.6 292.4 648.0 293.9 C655.4 295.4 653.1 295.8 659.1 297.1 C665.1 298.4 661.1 297.5 666.0 297.8 C670.9 298.1 667.9 298.1 673.9 298.0 C679.9 297.9 677.8 298.1 684.0 297.6 C690.2 297.1 686.5 298.2 692.4 296.6 C698.3 295.0 695.4 296.9 701.6 292.9 C707.8 288.9 706.6 288.9 710.9 284.6 C715.2 280.3 711.0 284.9 714.5 280.0 C718.0 275.1 716.6 279.2 721.3 270.0 C726.0 260.8 719.1 270.7 728.7 252.5 C738.3 234.3 742.9 227.8 750.0 215.5" stroke-width="1.44" fill="none" />
<path d="M369.3 308.9 C369.1 305.4 366.9 305.4 368.8 298.5 C370.7 291.6 368.7 293.7 375.0 288.1 C381.3 282.5 378.8 284.4 387.7 281.7 C396.6 279.0 394.3 280.2 401.6 280.0 C408.9 279.8 407.0 280.8 409.7 281.2" stroke-width="2.40" fill="none" />
<path d="M715.0 190.0 L718.5 186.3 L722.5 184.3" stroke-width="2.88" fill="none" />
<path d="M722.5 184.3 C728.3 183.7 714.2 183.4 740.0 182.4 C765.8 181.4 771.0 181.8 800.0 181.3 C829.0 180.8 800.2 181.7 826.9 180.9 C853.6 180.1 846.9 180.0 880.0 178.8 C913.1 177.6 906.4 177.7 926.3 177.4 C946.2 177.1 935.2 177.8 939.6 178.0" stroke-width="2.88" fill="none" />
<path d="M722.5 190.3 C728.3 190.1 714.2 189.9 740.0 189.6 C765.8 189.3 753.3 189.8 800.0 189.5 C846.7 189.2 840.8 189.3 880.0 188.7 C919.2 188.1 905.0 188.0 917.5 187.6" stroke-width="3.04" fill="none" />
<path d="M715.0 190.0 L722.5 190.3" stroke-width="2.40" fill="none" />
<path d="M917.5 187.6 L921.4 186.5 L927.4 178.8" stroke-width="2.56" fill="none" />
<path d="M924.1 187.6 L931.8 179.3" stroke-width="2.24" fill="none" />
<path d="M749.9 206.0 C752.0 203.9 747.0 204.6 756.1 199.8 C765.2 195.0 762.6 194.8 777.2 191.6 C791.8 188.4 792.4 190.7 800.0 190.3" stroke-width="2.72" fill="none" />
<path d="M751.5 207.5 C755.7 205.2 751.3 205.5 764.0 200.5 C776.7 195.5 768.6 195.7 789.6 192.5 C810.6 189.3 790.1 190.7 826.9 190.9 C863.7 191.1 870.2 192.1 900.0 193.0 C929.8 193.9 907.6 191.6 916.4 193.7 C925.2 195.8 920.4 194.1 926.3 199.2 C932.2 204.3 930.3 203.2 934.0 209.1 C937.7 215.0 936.3 214.2 937.4 216.8" stroke-width="2.40" fill="none" />
<path d="M764.8 206.6 C770.2 203.3 769.4 201.2 781.0 196.7 C792.6 192.2 784.3 194.6 799.6 193.2 C814.9 191.8 805.4 192.2 826.9 192.5 C848.4 192.8 839.6 192.8 864.0 194.2 C888.4 195.6 883.6 195.7 900.0 196.7 C916.4 197.7 905.4 196.1 913.1 197.3 C920.8 198.5 919.7 199.3 923.0 200.3" stroke-width="2.40" fill="none" />
<path d="M749.9 206.0 L751.2 209.1 L763.6 209.7 L764.8 206.6" stroke-width="2.40" fill="none" />
<path d="M379.7 308.3 C376.2 308.5 379.2 307.6 369.3 308.9 C359.4 310.2 363.1 310.0 350.0 312.3 C336.9 314.6 350.7 312.1 330.0 315.8 C309.3 319.5 309.3 318.0 288.0 323.4 C266.7 328.8 276.2 326.5 266.2 332.0 C256.2 337.5 261.0 335.0 258.0 340.0 C255.0 345.0 257.1 340.5 257.3 347.0 C257.5 353.5 258.1 355.4 258.5 359.6" stroke-width="2.40" fill="none" />
<path d="M460.0 303.3 C433.3 311.2 438.7 309.7 380.0 327.0 C321.3 344.3 315.9 345.7 283.8 355.1" stroke-width="1.76" fill="none" />
<path d="M593.7 298.0 C569.1 307.0 568.7 307.4 520.0 325.0 C471.3 342.6 471.7 342.1 447.5 350.7" stroke-width="1.76" fill="none" />
<path d="M577.5 348.5 C578.2 347.8 577.5 349.6 579.7 346.3 C581.9 343.0 578.9 342.6 584.1 338.6 C589.3 334.6 576.6 337.9 595.2 334.2 C613.8 330.5 611.7 332.4 640.0 327.6 C668.3 322.8 663.6 323.2 680.0 319.8 C696.4 316.4 684.2 319.6 689.3 317.4 C694.4 315.2 692.3 316.1 695.4 313.1 C698.5 310.1 697.3 311.0 698.5 308.5 C699.7 306.0 699.3 308.7 699.1 305.7 C698.9 302.7 698.3 301.6 697.9 299.6" stroke-width="2.88" fill="none" />
<path d="M266.2 332.0 C261.8 334.3 264.4 333.6 253.0 338.8 C241.6 344.0 239.0 344.7 232.0 347.6" stroke-width="2.40" fill="none" />
<path d="M232.0 347.6 C230.0 350.1 228.9 349.5 226.0 355.0 C223.1 360.5 223.7 358.9 223.2 364.2 C222.7 369.5 223.0 367.0 224.5 371.0 C226.0 375.0 223.8 373.5 227.6 376.3 C231.4 379.1 230.9 377.9 236.0 379.5 C241.1 381.1 240.7 380.5 243.0 381.0" stroke-width="2.72" fill="none" />
<path d="M237.0 351.5 C235.2 354.3 233.5 354.8 231.5 360.0 C229.5 365.2 229.5 362.7 231.0 367.0 C232.5 371.3 231.0 369.5 236.0 373.0 C241.0 376.5 242.7 376.0 246.0 377.5" stroke-width="2.24" fill="none" />
<path d="M234.0 348.5 C236.0 350.7 236.2 351.6 240.0 355.0 C243.8 358.4 241.8 358.6 245.5 358.6 C249.2 358.6 247.0 359.2 251.0 355.0 C255.0 350.8 255.3 349.0 257.4 346.0" stroke-width="2.24" fill="none" />
<path d="M227.6 376.3 C228.0 381.8 231.3 385.1 228.7 392.8 C226.1 400.5 224.3 392.9 219.9 399.5 C215.5 406.1 217.4 400.9 215.5 412.7 C213.6 424.5 213.9 423.8 214.3 434.8 C214.7 445.8 215.8 442.1 216.6 445.8" stroke-width="2.72" fill="none" />
<path d="M230.9 378.5 C231.3 388.4 231.3 386.6 232.0 408.3 C232.7 430.0 230.2 428.9 233.1 443.6 C236.0 458.3 238.2 449.5 240.8 452.5" stroke-width="2.40" fill="none" />
<path d="M216.6 409.4 L228.7 411.6" stroke-width="2.08" fill="none" />
<path d="M233.0 392.0 C233.5 395.3 233.2 395.3 234.5 402.0 C235.8 408.7 236.2 408.7 237.0 412.0" stroke-width="1.28" fill="none" />
<path d="M234.5 393.0 C235.0 396.0 234.7 396.0 236.0 402.0 C237.3 408.0 237.7 408.0 238.5 411.0" stroke-width="1.28" fill="none" />
<path d="M236.0 394.0 C236.5 396.7 236.2 396.7 237.5 402.0 C238.8 407.3 239.2 407.3 240.0 410.0" stroke-width="1.28" fill="none" />
<path d="M237.5 395.0 C238.0 397.3 237.7 397.3 239.0 402.0 C240.3 406.7 240.7 406.7 241.5 409.0" stroke-width="1.28" fill="none" />
<path d="M239.0 396.0 C239.5 398.0 239.2 398.0 240.5 402.0 C241.8 406.0 242.2 406.0 243.0 408.0" stroke-width="1.28" fill="none" />
<path d="M264.0 360.7 C282.7 359.1 281.3 358.6 320.0 356.0 C358.7 353.4 337.9 354.4 380.0 353.0 C422.1 351.6 424.1 352.2 446.2 351.8" stroke-width="4.16" fill="none" />
<path d="M446.2 351.8 L459.4 357.4 L479.3 375.0 L479.3 441.2 L450.6 461.9 L440.0 465.2 L250.7 467.4 L239.7 457.5 L239.7 432.4 L240.8 383.8 L261.8 362.9" stroke-width="3.04" fill="none" />
<path d="M268.4 368.4 L247.4 386.0 L247.4 453.0 L257.4 463.0 L440.0 459.7 L448.4 456.4 L474.9 439.9 L474.9 377.2 L448.4 356.9 L380.0 357.8 L320.0 362.5 L268.4 368.4" stroke-width="2.56" fill="none" />
<path d="M459.4 357.4 L466.0 356.3 L490.3 376.1 L490.3 439.0 L479.3 441.2" stroke-width="2.72" fill="none" />
<path d="M479.3 375.0 L490.3 376.1" stroke-width="2.08" fill="none" />
<path d="M272.8 371.7 L320.0 367.5 L380.0 364.0 L446.2 362.9 L470.4 381.6 L470.4 388.2 L446.0 394.9 L380.0 398.2 L257.4 401.5 L249.6 392.7Z" stroke-width="2.88" fill="url(#mesh)" />
<path d="M326.0 372.0 L334.8 367.2 L362.0 366.3 L403.0 364.9 L406.5 369.6 L380.0 371.3Z" stroke-width="2.08" fill="#fff" />
<path d="M357.6 366.3 A4.6 3.0 0 0 0 366.8 366.1 Z" stroke-width="1.92" fill="#161616" />
<ellipse cx="362.2" cy="367.2" rx="1.4" ry="0.8" stroke-width="0.16" fill="#fff" transform="rotate(0.0 362.2 367.2)"/>
<path d="M385.7 365.4 A4.6 3.0 0 0 0 394.9 365.2 Z" stroke-width="1.92" fill="#161616" />
<ellipse cx="390.3" cy="366.3" rx="1.4" ry="0.8" stroke-width="0.16" fill="#fff" transform="rotate(0.0 390.3 366.3)"/>
<path d="M316.5 368.2 L318.0 370.3 L322.5 370.0 L323.5 367.8Z" stroke-width="1.92" fill="#fff" />
<path d="M257.4 401.5 L270.6 403.7" stroke-width="2.24" fill="none" />
<path d="M270.6 403.7 L252.9 419.1" stroke-width="2.40" fill="none" />
<path d="M251.8 423.5 L380.0 420.2 L446.2 418.0 L470.4 413.6 L470.4 434.6 L452.8 451.0 L411.0 455.3 L405.2 451.0 L303.7 453.1 L297.0 457.5 L264.0 456.4 L252.9 447.5Z" stroke-width="2.88" fill="url(#mesh)" />
<path d="M251.8 423.5 L252.9 419.1 L380.0 416.0 L446.2 415.0 L471.5 411.0" stroke-width="2.40" fill="none" />
<path d="M355.0 453.0 L353.0 458.5" stroke-width="2.40" fill="none" />
<path d="M466.0 356.3 C484.0 354.9 483.2 354.6 520.0 352.0 C556.8 349.4 557.5 349.7 576.3 348.5" stroke-width="2.72" fill="none" />
<path d="M577.5 348.5 C581.9 349.2 584.1 346.3 590.7 350.7 C597.3 355.1 595.5 355.2 597.4 361.8 C599.3 368.4 596.7 367.7 596.3 370.6" stroke-width="2.88" fill="none" />
<path d="M596.3 370.6 L573.1 403.7 L570.9 430.2 L566.5 434.6" stroke-width="2.88" fill="none" />
<path d="M577.5 348.5 C579.3 351.5 580.4 350.8 583.0 357.4 C585.6 364.0 584.5 364.7 585.2 368.4" stroke-width="2.40" fill="none" />
<path d="M585.2 368.4 L564.3 397.1 L562.1 428.0" stroke-width="2.40" fill="none" />
<path d="M585.2 368.4 L596.3 370.6" stroke-width="2.08" fill="none" />
<path d="M564.3 398.5 L573.1 403.7" stroke-width="2.08" fill="none" />
<path d="M490.3 441.2 L499.1 435.7 L562.1 430.1 L566.5 434.6" stroke-width="2.72" fill="none" />
<path d="M492.5 398.2 L523.4 396.0 L527.8 397.1 L527.8 416.9 L523.4 419.1 L492.5 420.2" stroke-width="2.88" fill="none" />
<path d="M492.5 402.6 L522.5 400.5 L522.5 415.5 L492.5 416.5" stroke-width="2.24" fill="none" />
<path d="M523.4 396.0 L523.4 419.1" stroke-width="2.08" fill="none" />
<path d="M528.5 364.3 C530.8 367.5 531.4 366.9 535.5 374.0 C539.6 381.1 536.7 376.5 540.7 385.5 C544.7 394.5 543.5 391.4 547.5 401.0 C551.5 410.6 551.0 409.9 552.8 414.3" stroke-width="1.28" fill="none" stroke-dasharray="2 2 3 2 22 2 3 2 2 2 60" style="stroke-linecap:butt"/>
<path d="M530.8 374.1 C532.5 377.1 532.4 376.2 536.0 383.0 C539.6 389.8 537.9 386.8 541.5 394.5 C545.1 402.2 545.0 402.2 546.7 406.0" stroke-width="1.28" fill="none" stroke-dasharray="2 2 3 2 22 2 3 2 2 2 60" style="stroke-linecap:butt"/>
<path d="M539.9 370.3 C541.8 373.2 542.0 372.6 545.5 379.0 C549.0 385.4 547.3 382.3 550.5 389.5 C553.7 396.7 553.6 397.0 555.1 400.7" stroke-width="1.28" fill="none" stroke-dasharray="2 2 3 2 22 2 3 2 2 2 60" style="stroke-linecap:butt"/>
<path d="M548.3 373.4 C549.8 375.8 550.0 375.2 552.8 380.5 C555.6 385.8 555.3 386.4 556.6 389.3" stroke-width="1.28" fill="none" stroke-dasharray="2 2 3 2 22 2 3 2 2 2 60" style="stroke-linecap:butt"/>
<path d="M531.6 384.7 C532.7 386.6 532.8 386.2 534.8 390.5 C536.8 394.8 536.7 395.2 537.6 397.6" stroke-width="1.28" fill="none" stroke-dasharray="2 2 3 2 22 2 3 2 2 2 60" style="stroke-linecap:butt"/>
<path d="M216.6 445.8 C214.4 448.8 212.6 445.1 209.9 454.7 C207.2 464.3 208.4 462.7 208.6 474.5 C208.8 486.3 207.5 478.8 210.5 490.0 C213.5 501.2 211.9 497.0 217.6 508.2 C223.3 519.4 224.3 518.5 227.6 523.7" stroke-width="2.88" fill="none" />
<path d="M214.3 446.9 C217.6 448.0 217.3 446.9 224.3 450.2 C231.3 453.5 229.4 452.5 235.3 456.9 C241.2 461.3 239.7 461.3 241.9 463.5" stroke-width="2.56" fill="none" />
<path d="M224.3 450.2 C223.4 453.9 220.8 453.9 221.5 461.3 C222.2 468.7 224.8 468.6 226.5 472.3" stroke-width="2.24" fill="none" />
<path d="M224.3 473.0 C223.5 476.7 222.3 473.3 222.0 484.0 C221.7 494.7 221.6 491.8 223.5 505.0 C225.4 518.2 226.2 517.5 227.6 523.7" stroke-width="2.40" fill="none" />
<path d="M224.3 474.0 L440.0 469.6 L452.8 466.3 L455.0 467.4" stroke-width="2.72" fill="none" />
<path d="M226.5 484.0 L440.0 481.8 L448.4 482.9 L455.0 467.4" stroke-width="3.68" fill="none" />
<path d="M228.7 487.6 L440.0 485.3 L444.0 485.1" stroke-width="2.08" fill="none" />
<path d="M229.8 488.4 L230.9 512.7 L266.2 512.7 L270.6 517.1 L407.4 517.1 L414.0 510.4 L444.0 510.4 L446.2 503.8 L444.0 485.1" stroke-width="2.56" fill="none" />
<path d="M232.0 491.7 L271.7 491.7" stroke-width="2.08" fill="none" />
<path d="M233.1 507.1 L267.3 507.1 L272.8 511.6 L404.0 511.6 L406.5 512.7" stroke-width="2.08" fill="none" />
<path d="M404.3 490.6 L441.8 489.5 L442.9 501.6 L413.0 502.7 L404.3 510.4" stroke-width="2.24" fill="none" />
<path d="M272.8 488.4 L403.0 487.3 L404.0 510.4 L273.9 511.6Z" stroke-width="2.72" fill="url(#mesh)" />
<path d="M227.6 523.7 L272.8 533.6 L457.2 531.4" stroke-width="2.88" fill="none" />
<path d="M239.7 518.2 L270.6 522.6 L407.4 521.5 L415.0 514.9 L444.0 513.8" stroke-width="2.40" fill="none" />
<path d="M230.9 512.7 L239.7 518.2" stroke-width="2.08" fill="none" />
<path d="M446.2 512.7 L466.0 531.4 L474.9 531.4 L481.5 527.0" stroke-width="2.72" fill="none" />
<path d="M450.6 508.2 L472.7 528.1" stroke-width="2.24" fill="none" />
<path d="M457.2 531.4 L466.0 531.4" stroke-width="2.56" fill="none" />
<path d="M455.0 500.0 L481.5 527.0" stroke-width="2.40" fill="none" />
<path d="M455.0 467.4 L481.5 446.5 L589.6 437.6 L576.3 476.3 L567.5 479.6 L466.0 500.5 L457.2 495.0 L455.0 467.4" stroke-width="2.88" fill="none" />
<path d="M459.4 469.6 L483.7 450.9 L578.5 442.1 L571.9 472.9 L468.2 496.1 L461.0 491.0 L459.4 469.6" stroke-width="2.24" fill="none" />
<path d="M471.5 463.0 L566.4 449.8 L556.5 471.8 L477.1 487.3Z" stroke-width="2.72" fill="none" />
<path d="M480.4 464.1 L563.1 453.1 L554.3 469.6 L484.8 484.0Z" stroke-width="2.24" fill="none" />
<path d="M484.8 484.0 L554.3 469.6" stroke-width="3.84" fill="none" />
<path d="M471.5 463.0 L480.4 464.1" stroke-width="1.92" fill="none" />
<path d="M477.1 487.3 L484.8 484.0" stroke-width="1.92" fill="none" />
<path d="M481.5 442.1 L492.5 438.8 L563.1 432.1 L571.9 428.8" stroke-width="2.56" fill="none" />
<path d="M497.0 441.2 L591.8 435.0" stroke-width="4.16" fill="none" />
<path d="M583.0 432.4 L594.0 432.4" stroke-width="2.56" fill="none" />
<path d="M589.6 437.6 L594.0 432.4" stroke-width="2.40" fill="none" />
<path d="M481.5 527.0 L563.5 550.3" stroke-width="2.40" fill="none" />
<path d="M466.0 500.5 L483.7 502.7" stroke-width="1.92" fill="none" />
<path d="M581.9 432.4 C581.9 432.4 581.9 432.5 581.9 432.4 C582.0 432.2 581.9 432.4 582.1 432.0 C582.4 431.6 582.1 432.0 582.7 431.2 C583.2 430.3 582.8 430.9 583.7 429.4 C584.7 428.0 584.1 428.8 585.4 426.7 C586.7 424.6 586.0 425.7 587.7 423.2 C589.3 420.6 588.5 421.9 590.3 419.1 C592.2 416.3 591.3 417.6 593.3 414.7 C595.3 411.8 594.2 413.3 596.4 410.3 C598.6 407.3 597.4 408.8 599.8 405.9 C602.1 402.9 600.9 404.4 603.5 401.3 C606.1 398.3 604.7 399.8 607.6 396.7 C610.6 393.6 609.1 395.1 612.3 392.0 C615.6 388.9 613.9 390.3 617.4 387.3 C620.9 384.3 619.1 385.7 622.7 382.9 C626.3 380.1 624.5 381.3 628.2 378.9 C631.9 376.4 630.1 377.5 633.7 375.4 C637.4 373.4 635.6 374.3 639.3 372.6 C642.9 370.9 641.1 371.7 644.8 370.3 C648.5 368.9 646.6 369.5 650.3 368.4 C654.0 367.3 652.1 367.8 655.8 367.0 C659.5 366.1 657.7 366.5 661.3 365.9 C665.0 365.3 663.2 365.6 666.9 365.2 C670.5 364.9 668.7 365.0 672.4 364.9 C676.1 364.8 674.2 364.8 677.9 365.0 C681.6 365.1 679.7 365.0 683.4 365.4 C687.1 365.8 685.2 365.5 688.9 366.2 C692.6 366.9 690.7 366.5 694.4 367.5 C698.1 368.5 696.3 367.9 699.9 369.2 C703.6 370.6 701.8 369.8 705.4 371.4 C708.9 373.1 707.2 372.2 710.7 374.1 C714.1 376.0 712.4 375.0 715.8 377.2 C719.1 379.4 717.5 378.3 720.6 380.7 C723.7 383.2 722.2 381.9 725.1 384.7 C728.1 387.4 726.6 386.0 729.4 388.9 C732.1 391.9 730.8 390.4 733.4 393.6 C736.0 396.8 734.7 395.2 737.1 398.6 C739.5 402.0 738.4 400.3 740.5 403.8 C742.7 407.4 741.7 405.6 743.6 409.2 C745.5 412.9 744.6 411.0 746.3 414.7 C747.9 418.4 747.2 416.5 748.6 420.2 C750.0 423.9 749.3 422.1 750.5 425.8 C751.6 429.5 751.1 427.6 752.0 431.4 C753.0 435.1 752.5 433.2 753.3 437.0 C754.0 440.8 753.7 438.9 754.2 442.7 C754.8 446.5 754.5 444.6 755.0 448.4 C755.4 452.1 755.2 450.3 755.5 454.0 C755.8 457.7 755.7 455.9 755.9 459.5 C756.1 463.1 756.0 461.3 756.1 464.8 C756.3 468.3 756.2 466.5 756.2 470.0 C756.3 473.5 756.3 471.7 756.2 475.3 C756.1 478.8 756.2 477.0 755.9 480.7 C755.7 484.3 755.8 482.6 755.5 486.2 C755.1 489.9 755.3 488.2 754.9 491.6 C754.5 495.0 754.7 493.5 754.3 496.3 C754.0 499.1 754.1 498.0 753.8 500.0 C753.6 502.0 753.7 501.1 753.5 502.3 C753.4 503.5 753.4 503.0 753.4 503.5 C753.3 504.0 753.3 503.8 753.3 503.9 C753.3 504.1 753.3 504.0 753.3 504.0" stroke-width="2.40" fill="none" />
<path d="M592.9 432.4 C592.9 432.4 592.8 432.5 592.9 432.4 C593.0 432.2 592.9 432.4 593.2 432.0 C593.5 431.6 593.2 432.0 593.8 431.2 C594.5 430.3 594.0 430.9 595.1 429.4 C596.2 428.0 595.6 428.8 597.2 426.7 C598.8 424.6 597.9 425.7 600.0 423.2 C602.1 420.6 601.0 421.9 603.5 419.1 C606.1 416.3 604.7 417.6 607.6 414.7 C610.6 411.8 609.1 413.2 612.3 410.3 C615.6 407.5 613.9 408.8 617.4 406.1 C620.9 403.3 619.1 404.6 622.7 402.1 C626.3 399.6 624.5 400.8 628.2 398.6 C631.9 396.3 630.1 397.4 633.7 395.5 C637.4 393.6 635.6 394.5 639.3 392.9 C642.9 391.4 641.1 392.1 644.8 390.8 C648.5 389.6 646.6 390.2 650.3 389.1 C654.0 388.1 652.1 388.6 655.8 387.8 C659.5 387.0 657.7 387.3 661.3 386.8 C665.0 386.2 663.2 386.4 666.9 386.1 C670.5 385.8 668.7 385.9 672.4 385.8 C676.1 385.7 674.2 385.7 677.9 385.9 C681.6 386.0 679.7 385.9 683.4 386.3 C687.1 386.7 685.2 386.4 688.9 387.1 C692.6 387.8 690.7 387.4 694.4 388.4 C698.1 389.4 696.3 388.8 699.9 390.2 C703.6 391.5 701.8 390.8 705.4 392.4 C708.9 394.1 707.2 393.2 710.7 395.2 C714.1 397.1 712.4 396.1 715.8 398.4 C719.1 400.7 717.5 399.5 720.6 402.0 C723.7 404.6 722.2 403.3 725.1 406.2 C728.0 409.0 726.6 407.5 729.2 410.6 C731.9 413.7 730.6 412.1 733.0 415.4 C735.4 418.8 734.3 417.1 736.4 420.5 C738.5 424.0 737.5 422.3 739.4 425.9 C741.2 429.5 740.4 427.7 741.9 431.4 C743.5 435.1 742.8 433.2 744.1 437.0 C745.4 440.8 744.8 438.9 745.8 442.7 C746.9 446.5 746.4 444.6 747.2 448.4 C748.0 452.1 747.6 450.3 748.3 454.0 C749.0 457.7 748.7 455.9 749.2 459.5 C749.7 463.1 749.5 461.3 749.9 464.8 C750.3 468.2 750.1 466.5 750.5 469.9 C750.8 473.2 750.7 471.6 751.0 474.8 C751.2 478.0 751.1 476.4 751.4 479.5 C751.6 482.6 751.5 481.1 751.7 484.0 C751.9 486.9 751.8 485.6 752.0 488.1 C752.1 490.6 752.1 489.5 752.2 491.5 C752.3 493.6 752.2 492.7 752.3 494.2 C752.4 495.6 752.4 495.0 752.4 495.8 C752.5 496.6 752.5 496.3 752.5 496.6 C752.5 497.0 752.5 496.8 752.5 497.0 C752.5 497.1 752.5 497.0 752.5 497.0" stroke-width="1.92" fill="none" />
<path d="M595.2 434.6 C595.2 434.6 595.1 434.7 595.2 434.6 C595.3 434.4 595.2 434.6 595.5 434.2 C595.9 433.8 595.5 434.2 596.3 433.4 C597.0 432.5 596.5 433.1 597.8 431.6 C599.1 430.2 598.3 431.0 600.2 428.9 C602.0 426.9 601.0 427.9 603.4 425.4 C605.7 422.9 604.5 424.2 607.3 421.4 C610.0 418.7 608.6 420.0 611.7 417.3 C614.8 414.5 613.2 415.9 616.6 413.2 C620.0 410.6 618.3 411.9 621.8 409.4 C625.3 407.0 623.6 408.1 627.2 405.9 C630.8 403.7 629.0 404.7 632.7 402.8 C636.4 400.9 634.5 401.8 638.2 400.1 C641.9 398.5 640.0 399.3 643.7 397.9 C647.4 396.6 645.5 397.2 649.2 396.1 C652.9 395.1 651.0 395.5 654.7 394.7 C658.4 393.9 656.6 394.2 660.2 393.7 C663.9 393.1 662.1 393.3 665.7 392.9 C669.4 392.6 667.6 392.7 671.3 392.6 C674.9 392.4 673.1 392.4 676.8 392.5 C680.5 392.6 678.6 392.5 682.3 392.8 C685.9 393.2 684.1 392.9 687.7 393.5 C691.3 394.1 689.5 393.7 693.0 394.6 C696.5 395.4 694.8 394.9 698.1 396.0 C701.4 397.1 699.8 396.5 702.9 397.9 C706.1 399.2 704.5 398.5 707.5 400.1 C710.5 401.8 709.0 400.9 711.9 402.8 C714.8 404.7 713.4 403.7 716.1 405.9 C718.9 408.1 717.5 406.9 720.2 409.4 C722.8 411.9 721.5 410.6 724.0 413.3 C726.5 415.9 725.3 414.6 727.6 417.4 C729.9 420.3 728.8 418.8 730.8 421.9 C732.8 424.9 731.9 423.4 733.7 426.5 C735.4 429.7 734.6 428.1 736.1 431.3 C737.6 434.5 736.9 432.9 738.2 436.2 C739.5 439.4 738.9 437.8 739.9 441.0 C741.0 444.2 740.5 442.6 741.4 445.8 C742.2 449.0 741.8 447.4 742.5 450.6 C743.2 453.8 742.9 452.2 743.5 455.4 C744.1 458.6 743.8 457.0 744.4 460.2 C744.9 463.4 744.7 461.8 745.2 465.1 C745.7 468.3 745.5 466.7 746.0 470.0 C746.5 473.2 746.3 471.6 746.8 474.8 C747.3 478.0 747.0 476.4 747.6 479.5 C748.1 482.6 747.9 481.1 748.4 484.0 C748.9 486.9 748.7 485.6 749.2 488.1 C749.7 490.6 749.5 489.5 749.9 491.5 C750.3 493.6 750.1 492.7 750.4 494.2 C750.7 495.6 750.6 495.0 750.8 495.8 C750.9 496.6 750.8 496.3 750.9 496.6 C751.0 497.0 751.0 496.8 751.0 497.0 C751.0 497.1 751.0 497.0 751.0 497.0" stroke-width="1.92" fill="none" />
<path d="M590.7 435.7 L595.2 434.6" stroke-width="2.24" fill="none" />
<path d="M928.5 216.3 C923.4 213.9 922.6 212.7 913.1 209.1 C903.6 205.5 916.3 207.3 900.0 205.4 C883.7 203.5 888.5 204.3 864.1 203.3 C839.7 202.3 851.7 202.0 826.9 202.5 C802.1 203.0 807.8 202.4 789.6 204.8 C771.4 207.2 780.6 206.0 772.3 209.7 C764.0 213.4 769.4 210.5 764.8 215.9 C760.2 221.3 766.7 208.7 758.6 225.9 C750.5 243.1 747.6 247.8 740.5 267.5 C733.4 287.2 737.9 275.5 737.3 285.0 C736.7 294.5 737.2 288.5 738.6 296.0 C740.0 303.5 738.3 298.9 741.4 307.6 C744.5 316.3 743.4 312.8 748.0 322.0 C752.6 331.2 750.4 321.5 755.1 335.1 C759.8 348.7 758.8 339.7 762.0 362.7 C765.2 385.7 763.4 376.5 764.8 404.1 C766.2 431.7 765.7 416.1 766.2 445.4 C766.7 474.7 766.2 476.5 766.2 492.0" stroke-width="2.88" fill="none" />
<path d="M747.5 296.3 C746.7 292.5 744.2 293.8 745.0 285.0 C745.8 276.2 746.3 278.3 750.0 270.0 C753.7 261.7 749.9 271.8 756.1 260.0 C762.3 248.2 761.5 246.7 768.5 234.5 C775.5 222.3 770.2 229.2 777.2 223.4 C784.2 217.6 779.2 220.5 789.6 217.2 C800.0 213.9 795.9 215.1 808.3 213.4 C820.7 211.7 808.3 212.6 826.9 212.2 C845.5 211.8 839.7 211.6 864.1 212.2 C888.5 212.8 882.6 212.3 900.0 214.0 C917.4 215.7 906.2 215.7 916.4 217.4 C926.6 219.1 925.9 218.5 930.7 219.0" stroke-width="2.56" fill="none" />
<path d="M826.9 212.8 C833.5 228.5 836.6 229.3 846.8 260.0 C857.0 290.7 853.9 290.0 857.5 305.0" stroke-width="4.48" fill="none" />
<path d="M833.1 202.9 C841.8 221.9 846.1 226.4 859.2 260.0 C872.3 293.6 868.1 289.1 872.5 303.7" stroke-width="2.56" fill="none" />
<path d="M849.2 212.8 C855.8 228.5 858.4 230.1 869.1 260.0 C879.8 289.9 877.2 288.3 881.3 302.5" stroke-width="2.56" fill="none" />
<path d="M918.2 217.3 C922.3 225.3 922.6 225.1 930.6 241.4 C938.6 257.7 935.9 247.2 942.2 266.2 C948.5 285.2 947.1 287.7 949.6 298.5" stroke-width="4.64" fill="none" />
<path d="M924.0 218.6 C928.3 226.7 929.0 227.1 937.0 243.0 C945.0 258.9 942.4 247.6 948.0 266.2 C953.6 284.8 951.9 287.9 953.8 298.8" stroke-width="2.40" fill="none" />
<path d="M930.7 218.0 C935.4 225.8 935.9 225.3 944.7 241.4 C953.5 257.5 949.9 247.3 957.1 266.2 C964.3 285.1 963.2 287.4 966.2 298.0" stroke-width="2.24" fill="none" />
<path d="M793.7 309.0 L857.5 305.0 L970.2 297.9" stroke-width="2.72" fill="none" />
<path d="M761.0 293.5 C761.1 289.0 761.0 287.2 761.3 280.0 C761.6 272.8 760.9 276.2 762.0 272.0 C763.1 267.8 762.2 269.7 764.5 267.5 C766.8 265.3 765.2 266.3 769.0 265.3 C772.8 264.3 759.0 264.9 776.0 264.6 C793.0 264.3 802.0 263.3 820.0 264.3 C838.0 265.3 824.3 263.6 830.0 267.5 C835.7 271.4 833.3 269.8 837.0 276.0 C840.7 282.2 839.7 282.7 841.0 286.0" stroke-width="2.72" fill="none" />
<path d="M747.5 296.3 L840.0 288.7" stroke-width="2.72" fill="none" />
<path d="M840.0 288.7 C841.0 290.1 842.3 290.1 843.0 293.0 C843.7 295.9 844.6 294.0 842.0 297.5 C839.4 301.0 837.4 301.4 835.1 303.4" stroke-width="2.72" fill="none" />
<path d="M835.1 303.4 L759.3 314.5" stroke-width="3.04" fill="none" />
<path d="M745.5 288.3 C745.8 291.9 745.0 292.4 746.5 299.0 C748.0 305.6 745.7 302.8 750.0 308.0 C754.3 313.2 756.2 312.3 759.3 314.5" stroke-width="2.56" fill="none" />
<path d="M759.3 314.5 L793.7 309.0" stroke-width="2.56" fill="none" />
<path d="M813.0 289.5 C813.7 287.0 812.0 286.0 815.0 282.0 C818.0 278.0 816.3 279.2 822.0 277.5 C827.7 275.8 826.7 275.8 832.0 277.0 C837.3 278.2 836.0 279.7 838.0 281.0" stroke-width="2.08" fill="none" />
<path d="M818.0 288.0 L822.0 279.0" stroke-width="1.44" fill="none" />
<path d="M823.0 288.0 L827.0 278.7" stroke-width="1.44" fill="none" />
<path d="M828.0 288.0 L832.0 278.4" stroke-width="1.44" fill="none" />
<path d="M833.0 288.0 L837.0 278.1" stroke-width="1.44" fill="none" />
<path d="M876.5 304.8 C880.2 314.9 882.0 311.2 887.5 335.1 C893.0 359.0 891.3 348.9 893.0 376.5 C894.7 404.1 891.6 394.9 892.5 417.9 C893.4 440.9 895.5 422.7 895.8 445.4 C896.1 468.1 894.3 472.5 893.5 486.0" stroke-width="2.56" fill="none" />
<path d="M968.8 299.3 C971.1 306.7 973.3 300.3 975.7 321.4 C978.1 342.5 977.4 335.1 976.0 362.7 C974.6 390.3 971.9 376.5 971.6 404.1 C971.3 431.7 973.4 417.4 975.2 445.4 C977.0 473.4 976.5 473.8 977.1 488.0" stroke-width="2.88" fill="none" />
<path d="M966.3 300.0 C968.6 307.1 970.8 300.5 973.2 321.4 C975.6 342.3 974.9 335.1 973.5 362.7 C972.1 390.3 969.4 376.5 969.1 404.1 C968.8 431.7 970.9 417.4 972.7 445.4 C974.5 473.4 973.8 473.8 974.4 488.0" stroke-width="2.56" fill="none" />
<path d="M766.2 445.4 L893.0 436.5 L1003.0 428.7" stroke-width="3.84" fill="none" />
<path d="M767.5 452.3 L893.0 443.5 L1000.0 435.8" stroke-width="2.40" fill="none" />
<path d="M753.3 504.0 L893.0 494.5 L989.3 488.3" stroke-width="2.16" fill="none" />
<path d="M770.0 492.0 L893.0 484.5 L991.0 477.8" stroke-width="1.76" fill="none" />
<path d="M766.2 452.0 C765.8 461.3 764.7 467.3 765.0 480.0 C765.3 492.7 765.3 486.0 767.0 490.0 C768.7 494.0 769.0 491.3 770.0 492.0" stroke-width="2.08" fill="none" />
<ellipse cx="861.2" cy="337.0" rx="6.6" ry="11.2" stroke-width="2.72" fill="#fff" transform="rotate(3.0 861.2 337.0)"/>
<rect x="849.9" y="333.5" width="31.0" height="7.6" rx="3.8" style="fill:#fff;stroke:#161616;stroke-width:2.4" transform="rotate(-4 865.4 337.3)"/>
<ellipse cx="941.8" cy="329.7" rx="6.4" ry="10.9" stroke-width="2.72" fill="#fff" transform="rotate(3.0 941.8 329.7)"/>
<rect x="931.0" y="326.2" width="30.1" height="7.6" rx="3.8" style="fill:#fff;stroke:#161616;stroke-width:2.4" transform="rotate(-4 946.0 330.0)"/>
<path d="M727.6 344.8 C729.0 342.0 728.3 340.5 731.9 336.4 C735.5 332.3 731.2 334.2 738.5 332.6 C745.8 331.0 748.7 331.9 753.8 331.5" stroke-width="2.72" fill="none" />
<path d="M727.6 344.8 C729.8 348.2 728.6 347.9 734.1 355.1 C739.6 362.3 735.5 362.2 744.1 366.5 C752.7 370.8 754.7 367.5 760.0 368.0" stroke-width="2.72" fill="none" />
<path d="M728.6 347.4 L755.1 343.0" stroke-width="2.40" fill="none" />
<path d="M736.3 358.5 L757.3 355.1" stroke-width="2.40" fill="none" />
<path d="M939.6 178.0 C959.7 180.5 972.4 182.2 1000.0 185.4 C1027.6 188.6 1010.5 185.0 1022.4 187.6 C1034.3 190.2 1029.0 188.3 1035.6 193.1 C1042.2 197.9 1035.6 189.4 1042.2 201.9 C1048.8 214.4 1047.4 212.2 1055.5 230.6 C1063.6 249.0 1060.6 240.9 1066.5 257.1 C1072.4 273.3 1071.4 267.0 1073.1 279.1 C1074.8 291.2 1072.0 288.7 1071.5 293.5" stroke-width="2.88" fill="none" />
<path d="M979.4 306.5 L1071.5 293.5" stroke-width="4.16" fill="none" />
<path d="M980.4 303.4 L1071.0 290.6" stroke-width="2.08" fill="none" />
<path d="M928.5 187.6 L936.2 179.3" stroke-width="2.40" fill="none" />
<path d="M941.2 198.1 L953.3 191.5" stroke-width="2.24" fill="none" />
<path d="M939.6 178.4 C942.5 180.2 943.8 179.3 948.4 183.7 C953.0 188.1 951.7 188.9 953.3 191.5" stroke-width="2.56" fill="none" />
<path d="M928.5 187.6 C930.0 189.6 928.7 190.2 932.9 193.7 C937.1 197.2 936.8 192.2 941.2 198.1 C945.6 204.0 940.1 195.7 946.2 211.3 C952.3 226.9 951.6 226.7 959.4 245.0 C967.2 263.3 964.1 252.2 969.5 266.2 C974.9 280.2 972.2 273.6 975.5 287.0 C978.8 300.4 978.1 300.0 979.4 306.5" stroke-width="2.88" fill="none" />
<path d="M924.1 188.7 C927.4 191.8 928.8 190.6 934.0 198.1 C939.2 205.6 933.3 195.7 939.6 211.3 C945.9 226.9 945.3 226.7 952.8 245.0 C960.3 263.3 956.4 251.2 962.0 266.2 C967.6 281.2 965.3 275.4 969.5 290.0 C973.7 304.6 972.8 303.3 974.5 310.0" stroke-width="2.56" fill="none" />
<path d="M953.3 191.5 C954.6 193.7 948.5 180.3 957.2 198.1 C965.9 215.9 967.1 218.0 979.3 245.0 C991.5 272.0 988.2 266.3 993.7 279.1 C999.2 291.9 995.2 282.0 995.9 283.5" stroke-width="2.40" fill="none" />
<path d="M957.5 192.5 C958.8 194.5 952.8 181.0 961.5 198.5 C970.2 216.0 971.8 218.9 983.5 245.0 C995.2 271.1 991.3 264.7 996.5 276.9 C1001.7 289.1 998.2 280.0 999.0 281.5" stroke-width="1.92" fill="none" />
<path d="M957.5 192.5 L1035.6 196.4" stroke-width="1.92" fill="none" />
<path d="M995.9 283.5 L1073.1 280.2" stroke-width="2.40" fill="none" />
<path d="M998.0 286.0 L1072.5 283.0" stroke-width="1.92" fill="none" />
<path d="M995.9 283.5 C992.9 285.7 991.8 284.3 987.0 290.2 C982.2 296.1 983.7 296.8 981.5 301.2 C979.3 305.6 980.8 302.7 980.4 303.4" stroke-width="2.40" fill="none" />
<path d="M999.0 286.0 C996.2 288.3 995.2 287.3 990.5 293.0 C985.8 298.7 986.8 299.7 985.0 303.0" stroke-width="1.92" fill="none" />
<path d="M975.0 203.0 L1033.4 205.2 L1040.0 217.4 L981.5 215.2Z" stroke-width="2.24" fill="none" />
<path d="M975.0 203.0 L1033.4 205.2 L1040.0 217.4" stroke-width="4.48" fill="none" />
<path d="M975.0 203.0 L981.5 215.2" stroke-width="3.52" fill="none" />
<path d="M974.1 308.7 L1071.2 294.3" stroke-width="2.40" fill="none" />
<path d="M1072.0 292.2 C1074.5 297.2 1075.5 297.4 1079.6 307.3 C1083.7 317.2 1082.5 313.4 1084.2 322.0 C1085.9 330.6 1085.2 326.0 1084.6 333.0 C1084.0 340.0 1083.9 337.4 1082.5 343.0 C1081.1 348.6 1080.7 345.5 1080.3 349.8 C1079.9 354.1 1080.1 349.7 1081.3 356.0 C1082.5 362.3 1081.8 355.5 1083.8 368.6 C1085.8 381.7 1083.5 377.3 1087.2 395.4 C1090.9 413.5 1091.0 407.6 1094.8 422.8 C1098.6 438.0 1097.7 429.9 1098.7 441.0 C1099.7 452.1 1099.6 448.6 1097.8 456.2 C1096.0 463.8 1094.8 461.3 1093.3 463.8" stroke-width="2.88" fill="none" />
<path d="M1082.5 316.5 C1081.0 315.3 1081.0 314.5 1078.0 313.0 C1075.0 311.5 1076.2 311.1 1073.5 311.9 C1070.8 312.7 1071.4 312.0 1069.8 315.5 C1068.2 319.0 1068.3 317.7 1068.6 322.5 C1068.9 327.3 1068.7 324.2 1070.8 330.0 C1072.9 335.8 1071.8 333.4 1075.0 340.0 C1078.2 346.6 1078.5 346.5 1080.3 349.8" stroke-width="2.72" fill="none" />
<ellipse cx="1006.1" cy="351.7" rx="8.4" ry="15.4" stroke-width="2.88" fill="none" transform="rotate(4.0 1006.1 351.7)"/>
<path d="M989.3 488.3 C989.9 484.4 989.8 485.4 991.0 476.7 C992.2 468.0 990.3 475.2 993.0 462.3 C995.7 449.4 994.0 454.2 999.1 438.0 C1004.2 421.8 1001.4 427.5 1008.2 413.7 C1015.0 399.9 1012.5 404.9 1019.5 396.5 C1026.5 388.1 1023.1 392.7 1029.3 388.6 C1035.5 384.5 1032.1 386.2 1038.0 384.3 C1043.9 382.4 1041.2 383.0 1046.9 382.8 C1052.6 382.6 1049.8 382.2 1055.0 383.6 C1060.2 385.0 1056.7 382.0 1062.4 387.0 C1068.1 392.0 1065.8 386.8 1072.0 398.5 C1078.2 410.2 1075.5 405.5 1081.1 422.0 C1086.7 438.5 1084.6 434.1 1088.7 448.0 C1092.8 461.9 1091.8 458.5 1093.3 463.8" stroke-width="2.40" fill="none" />
<path d="M1010.5 410.6 L1033.0 410.0" stroke-width="2.40" fill="none" />
<path d="M493.0 278.7 L528.0 238.0" stroke-width="1.68" fill="none" stroke-dasharray="3 2.5 4 2.5 40 2.5 4 2.5 3 2.5" style="stroke-linecap:butt"/>
<path d="M491.2 285.5 L537.5 235.5" stroke-width="1.68" fill="none" stroke-dasharray="3 2.5 4 2.5 40 2.5 4 2.5 3 2.5" style="stroke-linecap:butt"/>
<path d="M492.5 292.5 L543.7 233.7" stroke-width="1.68" fill="none" stroke-dasharray="3 2.5 4 2.5 40 2.5 4 2.5 3 2.5" style="stroke-linecap:butt"/>
<path d="M502.5 291.2 L552.5 231.2" stroke-width="1.68" fill="none" stroke-dasharray="3 2.5 4 2.5 40 2.5 4 2.5 3 2.5" style="stroke-linecap:butt"/>
<path d="M510.0 288.7 L550.0 242.5" stroke-width="1.68" fill="none" stroke-dasharray="3 2.5 4 2.5 40 2.5 4 2.5 3 2.5" style="stroke-linecap:butt"/>
<path d="M515.0 287.5 L548.7 251.2" stroke-width="1.68" fill="none" stroke-dasharray="3 2.5 4 2.5 40 2.5 4 2.5 3 2.5" style="stroke-linecap:butt"/>
<path d="M616.0 268.0 L653.0 228.0" stroke-width="1.68" fill="none" stroke-dasharray="3 2.5 4 2.5 40 2.5 4 2.5 3 2.5" style="stroke-linecap:butt"/>
<path d="M616.0 275.0 L662.0 224.0" stroke-width="1.68" fill="none" stroke-dasharray="3 2.5 4 2.5 40 2.5 4 2.5 3 2.5" style="stroke-linecap:butt"/>
<path d="M617.0 281.0 L670.0 222.0" stroke-width="1.68" fill="none" stroke-dasharray="3 2.5 4 2.5 40 2.5 4 2.5 3 2.5" style="stroke-linecap:butt"/>
<path d="M627.0 279.0 L677.0 222.0" stroke-width="1.68" fill="none" stroke-dasharray="3 2.5 4 2.5 40 2.5 4 2.5 3 2.5" style="stroke-linecap:butt"/>
<path d="M634.0 277.0 L677.0 230.0" stroke-width="1.68" fill="none" stroke-dasharray="3 2.5 4 2.5 40 2.5 4 2.5 3 2.5" style="stroke-linecap:butt"/>
<path d="M640.0 275.0 L675.0 238.0" stroke-width="1.68" fill="none" stroke-dasharray="3 2.5 4 2.5 40 2.5 4 2.5 3 2.5" style="stroke-linecap:butt"/>
<path d="M788.7 257.5 L812.7 275.5" stroke-width="1.68" fill="none" stroke-dasharray="3 2.5 4 2.5 40 2.5 4 2.5 3 2.5" style="stroke-linecap:butt"/>
<path d="M787.5 248.7 L827.5 278.7" stroke-width="1.68" fill="none" stroke-dasharray="3 2.5 4 2.5 40 2.5 4 2.5 3 2.5" style="stroke-linecap:butt"/>
<path d="M786.2 240.0 L835.8 277.2" stroke-width="1.68" fill="none" stroke-dasharray="3 2.5 4 2.5 40 2.5 4 2.5 3 2.5" style="stroke-linecap:butt"/>
<path d="M786.2 234.2 L837.4 272.6" stroke-width="1.68" fill="none" stroke-dasharray="3 2.5 4 2.5 40 2.5 4 2.5 3 2.5" style="stroke-linecap:butt"/>
<path d="M797.5 237.5 L837.5 267.5" stroke-width="1.68" fill="none" stroke-dasharray="3 2.5 4 2.5 40 2.5 4 2.5 3 2.5" style="stroke-linecap:butt"/>
<path d="M810.0 241.2 L839.6 263.4" stroke-width="1.68" fill="none" stroke-dasharray="3 2.5 4 2.5 40 2.5 4 2.5 3 2.5" style="stroke-linecap:butt"/>
<path d="M878.7 246.2 L912.5 278.6" stroke-width="1.68" fill="none" stroke-dasharray="3 2.5 4 2.5 40 2.5 4 2.5 3 2.5" style="stroke-linecap:butt"/>
<path d="M877.5 240.0 L924.3 284.9" stroke-width="1.68" fill="none" stroke-dasharray="3 2.5 4 2.5 40 2.5 4 2.5 3 2.5" style="stroke-linecap:butt"/>
<path d="M876.2 232.5 L933.8 287.7" stroke-width="1.68" fill="none" stroke-dasharray="3 2.5 4 2.5 40 2.5 4 2.5 3 2.5" style="stroke-linecap:butt"/>
<path d="M873.7 225.0 L934.9 283.6" stroke-width="1.68" fill="none" stroke-dasharray="3 2.5 4 2.5 40 2.5 4 2.5 3 2.5" style="stroke-linecap:butt"/>
<path d="M886.2 228.7 L934.4 274.9" stroke-width="1.68" fill="none" stroke-dasharray="3 2.5 4 2.5 40 2.5 4 2.5 3 2.5" style="stroke-linecap:butt"/>
<path d="M898.7 232.5 L934.7 267.0" stroke-width="1.68" fill="none" stroke-dasharray="3 2.5 4 2.5 40 2.5 4 2.5 3 2.5" style="stroke-linecap:butt"/>
<text x="137.5" y="118.7" font-size="34.5" textLength="44.3" lengthAdjust="spacingAndGlyphs" style="fill:#2b2b2b;stroke:none">100</text>
<text x="455.5" y="172.8" font-size="34.5" textLength="44.3" lengthAdjust="spacingAndGlyphs" style="fill:#2b2b2b;stroke:none">102</text>
<text x="881.8" y="48.8" font-size="34.5" textLength="44.3" lengthAdjust="spacingAndGlyphs" style="fill:#2b2b2b;stroke:none">104</text>
<text x="1082.2" y="241.8" font-size="34.5" textLength="44.3" lengthAdjust="spacingAndGlyphs" style="fill:#2b2b2b;stroke:none">106</text>
<text x="1113.5" y="369.5" font-size="34.5" textLength="44.3" lengthAdjust="spacingAndGlyphs" style="fill:#2b2b2b;stroke:none">108</text>
<text x="605.9" y="675.7" font-size="37.8" font-weight="bold" textLength="81.6" lengthAdjust="spacingAndGlyphs" style="fill:#2b2b2b;stroke:none">FIG. 1</text>
<path d="M183.1 104.9 C185.4 104.8 185.2 104.5 190.0 104.7 C194.8 104.9 191.9 103.5 197.6 105.6 C203.3 107.7 201.4 106.6 207.2 110.9 C213.0 115.2 210.7 114.8 214.9 118.6 C219.1 122.4 218.2 121.0 219.8 122.2" stroke-width="2.00" fill="none" />
<path d="M226.5 130.2 L214.7 123.6 L220.1 121.5 L223.7 117.0Z" stroke-width="0.80" fill="#161616" />
<path d="M500.6 159.5 C502.9 159.4 502.7 159.1 507.5 159.3 C512.3 159.5 509.4 158.1 515.1 160.2 C520.8 162.3 518.9 161.2 524.7 165.5 C530.5 169.8 528.2 169.4 532.4 173.2 C536.6 177.0 535.7 175.6 537.3 176.8" stroke-width="2.00" fill="none" />
<path d="M544.0 184.8 L532.2 178.2 L537.6 176.1 L541.2 171.6Z" stroke-width="0.80" fill="#161616" />
<path d="M903.0 53.0 C902.5 56.1 904.7 56.0 901.4 62.4 C898.1 68.8 898.2 65.7 893.1 72.1 C888.0 78.5 889.0 77.1 886.2 81.7 C883.4 86.3 885.3 84.6 884.8 86.0" stroke-width="2.00" fill="none" />
<path d="M884.1 96.0 L878.7 83.4 L884.3 85.0 L889.9 83.6Z" stroke-width="0.80" fill="#161616" />
<path d="M1081.0 227.3 C1076.7 227.9 1076.0 226.1 1068.0 229.0 C1060.0 231.9 1063.5 231.0 1057.0 236.0 C1050.5 241.0 1051.3 241.3 1048.5 244.0" stroke-width="2.00" fill="none" />
<path d="M1109.8 356.5 C1105.3 357.2 1104.3 356.1 1096.3 358.5 C1088.3 360.9 1091.8 359.8 1085.7 363.8 C1079.6 367.8 1081.4 367.6 1078.0 370.5 C1074.6 373.4 1076.4 371.8 1075.6 372.5" stroke-width="2.00" fill="none" />
<path d="M1069.8 380.7 L1071.8 367.3 L1075.7 371.6 L1081.2 373.4Z" stroke-width="0.80" fill="#161616" />
</g>
</svg>
</body></html>
